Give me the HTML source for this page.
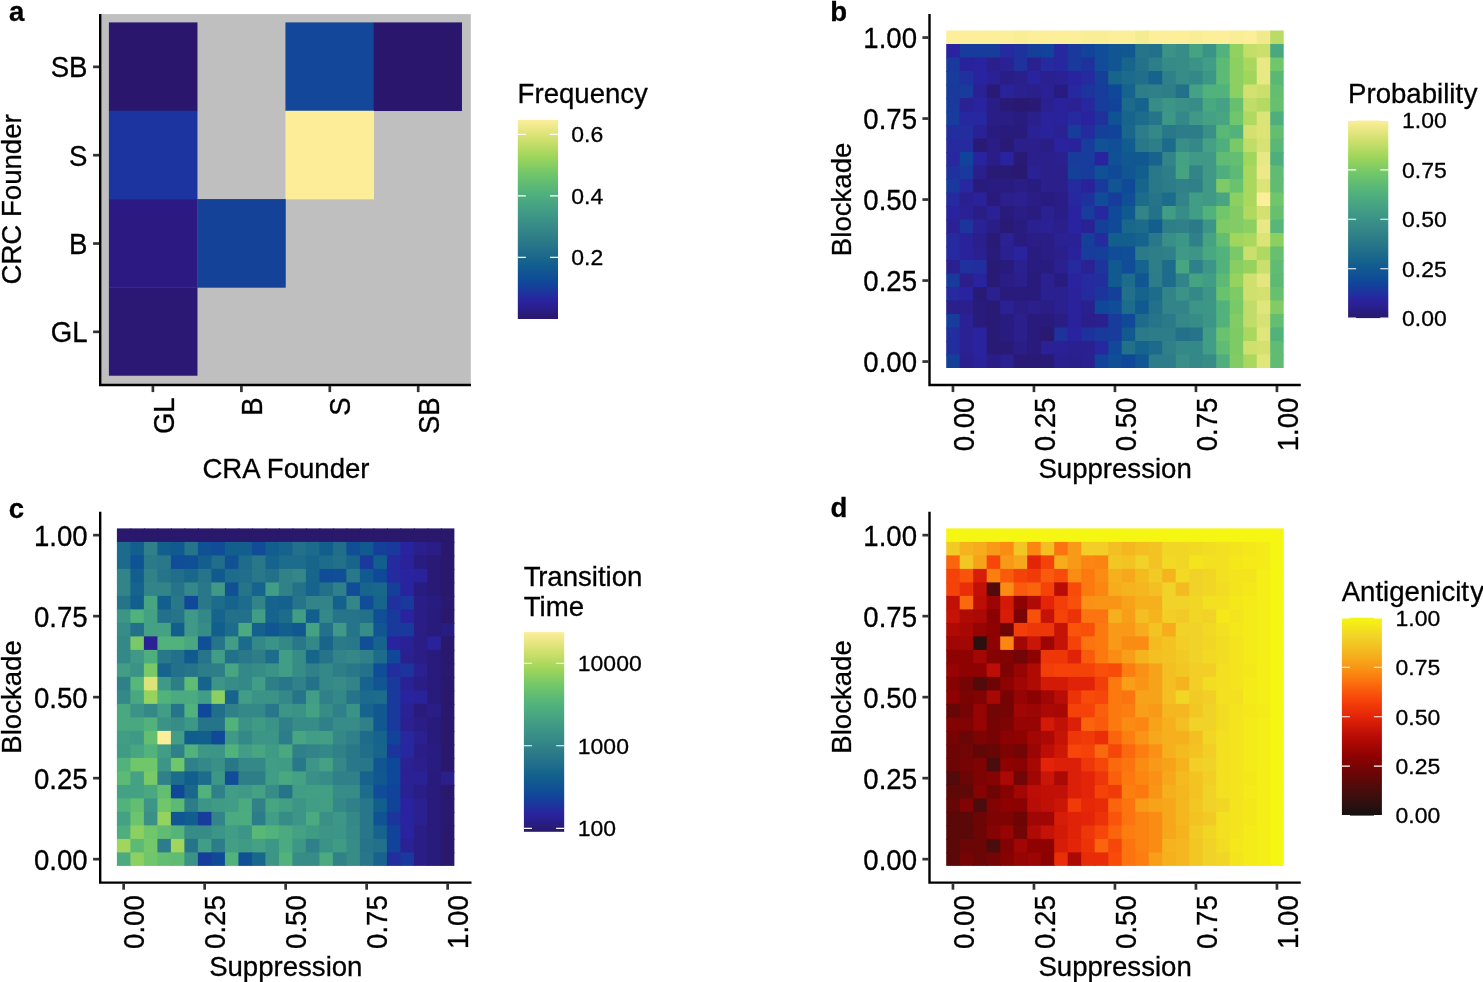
<!DOCTYPE html>
<html><head><meta charset="utf-8"><title>Figure</title>
<style>
html,body{margin:0;padding:0;background:#fff;}
svg{display:block;}
text{font-family:"Liberation Sans",Arial,Helvetica,sans-serif;fill:#000;stroke:#000;stroke-width:0.3px;}
</style></head><body>
<svg width="1483" height="982" viewBox="0 0 1483 982">
<rect width="1483" height="982" fill="#fff"/>
<rect x="100.20" y="14.10" width="370.60" height="370.90" fill="#bfbfbf"/>
<rect x="108.90" y="22.40" width="88.57" height="88.63" fill="#2a166c"/>
<rect x="285.44" y="22.40" width="88.57" height="88.63" fill="#12479a"/>
<rect x="373.71" y="22.40" width="88.27" height="88.63" fill="#2a166c"/>
<rect x="108.90" y="110.73" width="88.57" height="88.63" fill="#1c34a0"/>
<rect x="285.44" y="110.73" width="88.57" height="88.63" fill="#fded98"/>
<rect x="108.90" y="199.06" width="88.57" height="88.63" fill="#2c1a82"/>
<rect x="197.17" y="199.06" width="88.57" height="88.63" fill="#134298"/>
<rect x="108.90" y="287.39" width="88.57" height="88.33" fill="#2a1874"/>
<path d="M100.20 14.10V385.00H471.00" fill="none" stroke="#000" stroke-width="2.40" stroke-linecap="butt" stroke-linejoin="miter"/>
<line x1="93.10" y1="66.86" x2="99.20" y2="66.86" stroke="#333" stroke-width="2.70"/>
<text transform="translate(87.50 77.27) scale(1 1.045)" text-anchor="end" font-size="27.60">SB</text>
<line x1="93.10" y1="155.20" x2="99.20" y2="155.20" stroke="#333" stroke-width="2.70"/>
<text transform="translate(87.50 165.60) scale(1 1.045)" text-anchor="end" font-size="27.60">S</text>
<line x1="93.10" y1="243.53" x2="99.20" y2="243.53" stroke="#333" stroke-width="2.70"/>
<text transform="translate(87.50 253.93) scale(1 1.045)" text-anchor="end" font-size="27.60">B</text>
<line x1="93.10" y1="331.85" x2="99.20" y2="331.85" stroke="#333" stroke-width="2.70"/>
<text transform="translate(87.50 342.25) scale(1 1.045)" text-anchor="end" font-size="27.60">GL</text>
<line x1="152.90" y1="386.00" x2="152.90" y2="392.10" stroke="#333" stroke-width="2.70"/>
<text transform="translate(173.50 397.30) rotate(-90) scale(1 1.045)" text-anchor="end" font-size="27.60">GL</text>
<line x1="241.40" y1="386.00" x2="241.40" y2="392.10" stroke="#333" stroke-width="2.70"/>
<text transform="translate(262.00 397.30) rotate(-90) scale(1 1.045)" text-anchor="end" font-size="27.60">B</text>
<line x1="329.80" y1="386.00" x2="329.80" y2="392.10" stroke="#333" stroke-width="2.70"/>
<text transform="translate(350.40 397.30) rotate(-90) scale(1 1.045)" text-anchor="end" font-size="27.60">S</text>
<line x1="418.20" y1="386.00" x2="418.20" y2="392.10" stroke="#333" stroke-width="2.70"/>
<text transform="translate(438.80 397.30) rotate(-90) scale(1 1.045)" text-anchor="end" font-size="27.60">SB</text>
<text transform="translate(21.40 199.40) rotate(-90) scale(1 1.020)" text-anchor="middle" font-size="27.60">CRC Founder</text>
<text transform="translate(286.00 477.90) scale(1 1.020)" text-anchor="middle" font-size="27.60">CRA Founder</text>
<text x="8.90" y="20.90" font-size="27.60" font-weight="bold" stroke="none">a</text>
<defs><linearGradient id="ga" x1="0" y1="1" x2="0" y2="0">
<stop offset="0.0000" stop-color="#29186b"/>
<stop offset="0.0909" stop-color="#2a23a0"/>
<stop offset="0.1818" stop-color="#0f4799"/>
<stop offset="0.2727" stop-color="#125f8e"/>
<stop offset="0.3636" stop-color="#267489"/>
<stop offset="0.4545" stop-color="#358888"/>
<stop offset="0.5455" stop-color="#419d85"/>
<stop offset="0.6364" stop-color="#51b27c"/>
<stop offset="0.7273" stop-color="#6fc66b"/>
<stop offset="0.8182" stop-color="#a0d65b"/>
<stop offset="0.9091" stop-color="#d4e170"/>
<stop offset="1.0000" stop-color="#fdee99"/>
</linearGradient></defs>
<rect x="517.80" y="119.90" width="40.20" height="199.10" fill="url(#ga)"/>
<path d="M517.80 134.40h8.04M549.96 134.40h8.04" stroke="#fff" stroke-width="1.1" fill="none"/>
<path d="M517.80 195.90h8.04M549.96 195.90h8.04" stroke="#fff" stroke-width="1.1" fill="none"/>
<path d="M517.80 257.40h8.04M549.96 257.40h8.04" stroke="#fff" stroke-width="1.1" fill="none"/>
<text transform="translate(571.30 142.30) scale(1 0.990)" font-size="23.00">0.6</text>
<text transform="translate(571.30 203.80) scale(1 0.990)" font-size="23.00">0.4</text>
<text transform="translate(571.30 265.30) scale(1 0.990)" font-size="23.00">0.2</text>
<text transform="translate(517.60 102.90) scale(1 1.020)" font-size="27.60">Frequency</text>
<g>
<rect x="946.20" y="30.50" width="14.50" height="14.50" fill="#fdee99"/>
<rect x="959.70" y="30.50" width="14.50" height="14.50" fill="#fdee99"/>
<rect x="973.20" y="30.50" width="14.50" height="14.50" fill="#fdee99"/>
<rect x="986.70" y="30.50" width="14.50" height="14.50" fill="#fdee99"/>
<rect x="1000.20" y="30.50" width="14.50" height="14.50" fill="#fdee99"/>
<rect x="1013.70" y="30.50" width="14.50" height="14.50" fill="#f9ed95"/>
<rect x="1027.20" y="30.50" width="14.50" height="14.50" fill="#fdee99"/>
<rect x="1040.70" y="30.50" width="14.50" height="14.50" fill="#fdee99"/>
<rect x="1054.20" y="30.50" width="14.50" height="14.50" fill="#fdee99"/>
<rect x="1067.70" y="30.50" width="14.50" height="14.50" fill="#fdee99"/>
<rect x="1081.20" y="30.50" width="14.50" height="14.50" fill="#f9ed95"/>
<rect x="1094.70" y="30.50" width="14.50" height="14.50" fill="#f9ed95"/>
<rect x="1108.20" y="30.50" width="14.50" height="14.50" fill="#fdee99"/>
<rect x="1121.70" y="30.50" width="14.50" height="14.50" fill="#fdee99"/>
<rect x="1135.20" y="30.50" width="14.50" height="14.50" fill="#f5eb91"/>
<rect x="1148.70" y="30.50" width="14.50" height="14.50" fill="#fdee99"/>
<rect x="1162.20" y="30.50" width="14.50" height="14.50" fill="#fdee99"/>
<rect x="1175.70" y="30.50" width="14.50" height="14.50" fill="#fdee99"/>
<rect x="1189.20" y="30.50" width="14.50" height="14.50" fill="#f9ed95"/>
<rect x="1202.70" y="30.50" width="14.50" height="14.50" fill="#fdee99"/>
<rect x="1216.20" y="30.50" width="14.50" height="14.50" fill="#fdee99"/>
<rect x="1229.70" y="30.50" width="14.50" height="14.50" fill="#f9ed95"/>
<rect x="1243.20" y="30.50" width="14.50" height="14.50" fill="#fdee99"/>
<rect x="1256.70" y="30.50" width="14.50" height="14.50" fill="#f1ea8d"/>
<rect x="1270.20" y="30.50" width="13.50" height="14.50" fill="#badc66"/>
<rect x="946.20" y="44.00" width="14.50" height="14.50" fill="#2a23a0"/>
<rect x="959.70" y="44.00" width="14.50" height="14.50" fill="#173c9b"/>
<rect x="973.20" y="44.00" width="14.50" height="14.50" fill="#173c9b"/>
<rect x="986.70" y="44.00" width="14.50" height="14.50" fill="#173c9b"/>
<rect x="1000.20" y="44.00" width="14.50" height="14.50" fill="#252a9f"/>
<rect x="1013.70" y="44.00" width="14.50" height="14.50" fill="#1f319d"/>
<rect x="1027.20" y="44.00" width="14.50" height="14.50" fill="#14409a"/>
<rect x="1040.70" y="44.00" width="14.50" height="14.50" fill="#12439a"/>
<rect x="1054.20" y="44.00" width="14.50" height="14.50" fill="#27279f"/>
<rect x="1067.70" y="44.00" width="14.50" height="14.50" fill="#1a399c"/>
<rect x="1081.20" y="44.00" width="14.50" height="14.50" fill="#12439a"/>
<rect x="1094.70" y="44.00" width="14.50" height="14.50" fill="#104c97"/>
<rect x="1108.20" y="44.00" width="14.50" height="14.50" fill="#115592"/>
<rect x="1121.70" y="44.00" width="14.50" height="14.50" fill="#115891"/>
<rect x="1135.20" y="44.00" width="14.50" height="14.50" fill="#267489"/>
<rect x="1148.70" y="44.00" width="14.50" height="14.50" fill="#22708a"/>
<rect x="1162.20" y="44.00" width="14.50" height="14.50" fill="#3b9286"/>
<rect x="1175.70" y="44.00" width="14.50" height="14.50" fill="#378c87"/>
<rect x="1189.20" y="44.00" width="14.50" height="14.50" fill="#46a382"/>
<rect x="1202.70" y="44.00" width="14.50" height="14.50" fill="#3b9286"/>
<rect x="1216.20" y="44.00" width="14.50" height="14.50" fill="#51b27c"/>
<rect x="1229.70" y="44.00" width="14.50" height="14.50" fill="#91d160"/>
<rect x="1243.20" y="44.00" width="14.50" height="14.50" fill="#c4de6a"/>
<rect x="1256.70" y="44.00" width="14.50" height="14.50" fill="#cadf6c"/>
<rect x="1270.20" y="44.00" width="13.50" height="14.50" fill="#49a880"/>
<rect x="946.20" y="57.50" width="14.50" height="14.50" fill="#1a399c"/>
<rect x="959.70" y="57.50" width="14.50" height="14.50" fill="#2a229b"/>
<rect x="973.20" y="57.50" width="14.50" height="14.50" fill="#2a23a0"/>
<rect x="986.70" y="57.50" width="14.50" height="14.50" fill="#2a1f8b"/>
<rect x="1000.20" y="57.50" width="14.50" height="14.50" fill="#2a2195"/>
<rect x="1013.70" y="57.50" width="14.50" height="14.50" fill="#1f319d"/>
<rect x="1027.20" y="57.50" width="14.50" height="14.50" fill="#2a2090"/>
<rect x="1040.70" y="57.50" width="14.50" height="14.50" fill="#252a9f"/>
<rect x="1054.20" y="57.50" width="14.50" height="14.50" fill="#27279f"/>
<rect x="1067.70" y="57.50" width="14.50" height="14.50" fill="#1a399c"/>
<rect x="1081.20" y="57.50" width="14.50" height="14.50" fill="#1f319d"/>
<rect x="1094.70" y="57.50" width="14.50" height="14.50" fill="#104c97"/>
<rect x="1108.20" y="57.50" width="14.50" height="14.50" fill="#115592"/>
<rect x="1121.70" y="57.50" width="14.50" height="14.50" fill="#18658c"/>
<rect x="1135.20" y="57.50" width="14.50" height="14.50" fill="#24728a"/>
<rect x="1148.70" y="57.50" width="14.50" height="14.50" fill="#2e7e88"/>
<rect x="1162.20" y="57.50" width="14.50" height="14.50" fill="#368a88"/>
<rect x="1175.70" y="57.50" width="14.50" height="14.50" fill="#378c87"/>
<rect x="1189.20" y="57.50" width="14.50" height="14.50" fill="#3b9286"/>
<rect x="1202.70" y="57.50" width="14.50" height="14.50" fill="#419d85"/>
<rect x="1216.20" y="57.50" width="14.50" height="14.50" fill="#5dba75"/>
<rect x="1229.70" y="57.50" width="14.50" height="14.50" fill="#8cd061"/>
<rect x="1243.20" y="57.50" width="14.50" height="14.50" fill="#aad85f"/>
<rect x="1256.70" y="57.50" width="14.50" height="14.50" fill="#e8e884"/>
<rect x="1270.20" y="57.50" width="13.50" height="14.50" fill="#6fc66b"/>
<rect x="946.20" y="71.00" width="14.50" height="14.50" fill="#173c9b"/>
<rect x="959.70" y="71.00" width="14.50" height="14.50" fill="#1f319d"/>
<rect x="973.20" y="71.00" width="14.50" height="14.50" fill="#2a23a0"/>
<rect x="986.70" y="71.00" width="14.50" height="14.50" fill="#2a2195"/>
<rect x="1000.20" y="71.00" width="14.50" height="14.50" fill="#2a1e86"/>
<rect x="1013.70" y="71.00" width="14.50" height="14.50" fill="#2a1f8b"/>
<rect x="1027.20" y="71.00" width="14.50" height="14.50" fill="#2a23a0"/>
<rect x="1040.70" y="71.00" width="14.50" height="14.50" fill="#2a2090"/>
<rect x="1054.20" y="71.00" width="14.50" height="14.50" fill="#2a2195"/>
<rect x="1067.70" y="71.00" width="14.50" height="14.50" fill="#2a23a0"/>
<rect x="1081.20" y="71.00" width="14.50" height="14.50" fill="#252a9f"/>
<rect x="1094.70" y="71.00" width="14.50" height="14.50" fill="#14409a"/>
<rect x="1108.20" y="71.00" width="14.50" height="14.50" fill="#18658c"/>
<rect x="1121.70" y="71.00" width="14.50" height="14.50" fill="#1c6a8c"/>
<rect x="1135.20" y="71.00" width="14.50" height="14.50" fill="#206e8a"/>
<rect x="1148.70" y="71.00" width="14.50" height="14.50" fill="#16638d"/>
<rect x="1162.20" y="71.00" width="14.50" height="14.50" fill="#2f8088"/>
<rect x="1175.70" y="71.00" width="14.50" height="14.50" fill="#378c87"/>
<rect x="1189.20" y="71.00" width="14.50" height="14.50" fill="#358888"/>
<rect x="1202.70" y="71.00" width="14.50" height="14.50" fill="#3d9786"/>
<rect x="1216.20" y="71.00" width="14.50" height="14.50" fill="#5dba75"/>
<rect x="1229.70" y="71.00" width="14.50" height="14.50" fill="#8cd061"/>
<rect x="1243.20" y="71.00" width="14.50" height="14.50" fill="#a0d65b"/>
<rect x="1256.70" y="71.00" width="14.50" height="14.50" fill="#e8e884"/>
<rect x="1270.20" y="71.00" width="13.50" height="14.50" fill="#5ab877"/>
<rect x="946.20" y="84.50" width="14.50" height="14.50" fill="#1a399c"/>
<rect x="959.70" y="84.50" width="14.50" height="14.50" fill="#173c9b"/>
<rect x="973.20" y="84.50" width="14.50" height="14.50" fill="#2a2195"/>
<rect x="986.70" y="84.50" width="14.50" height="14.50" fill="#291a76"/>
<rect x="1000.20" y="84.50" width="14.50" height="14.50" fill="#2a229b"/>
<rect x="1013.70" y="84.50" width="14.50" height="14.50" fill="#2a2090"/>
<rect x="1027.20" y="84.50" width="14.50" height="14.50" fill="#2a1f8b"/>
<rect x="1040.70" y="84.50" width="14.50" height="14.50" fill="#2a2195"/>
<rect x="1054.20" y="84.50" width="14.50" height="14.50" fill="#291c80"/>
<rect x="1067.70" y="84.50" width="14.50" height="14.50" fill="#27279f"/>
<rect x="1081.20" y="84.50" width="14.50" height="14.50" fill="#1c359c"/>
<rect x="1094.70" y="84.50" width="14.50" height="14.50" fill="#173c9b"/>
<rect x="1108.20" y="84.50" width="14.50" height="14.50" fill="#0f4799"/>
<rect x="1121.70" y="84.50" width="14.50" height="14.50" fill="#16638d"/>
<rect x="1135.20" y="84.50" width="14.50" height="14.50" fill="#2e7e88"/>
<rect x="1148.70" y="84.50" width="14.50" height="14.50" fill="#2f8088"/>
<rect x="1162.20" y="84.50" width="14.50" height="14.50" fill="#2e7e88"/>
<rect x="1175.70" y="84.50" width="14.50" height="14.50" fill="#22708a"/>
<rect x="1189.20" y="84.50" width="14.50" height="14.50" fill="#44a183"/>
<rect x="1202.70" y="84.50" width="14.50" height="14.50" fill="#51b27c"/>
<rect x="1216.20" y="84.50" width="14.50" height="14.50" fill="#51b27c"/>
<rect x="1229.70" y="84.50" width="14.50" height="14.50" fill="#8cd061"/>
<rect x="1243.20" y="84.50" width="14.50" height="14.50" fill="#d4e170"/>
<rect x="1256.70" y="84.50" width="14.50" height="14.50" fill="#cadf6c"/>
<rect x="1270.20" y="84.50" width="13.50" height="14.50" fill="#63be72"/>
<rect x="946.20" y="98.00" width="14.50" height="14.50" fill="#1a399c"/>
<rect x="959.70" y="98.00" width="14.50" height="14.50" fill="#2a2195"/>
<rect x="973.20" y="98.00" width="14.50" height="14.50" fill="#2a23a0"/>
<rect x="986.70" y="98.00" width="14.50" height="14.50" fill="#2a1e86"/>
<rect x="1000.20" y="98.00" width="14.50" height="14.50" fill="#291a76"/>
<rect x="1013.70" y="98.00" width="14.50" height="14.50" fill="#291970"/>
<rect x="1027.20" y="98.00" width="14.50" height="14.50" fill="#291a76"/>
<rect x="1040.70" y="98.00" width="14.50" height="14.50" fill="#2a2090"/>
<rect x="1054.20" y="98.00" width="14.50" height="14.50" fill="#2a229b"/>
<rect x="1067.70" y="98.00" width="14.50" height="14.50" fill="#2a2195"/>
<rect x="1081.20" y="98.00" width="14.50" height="14.50" fill="#27279f"/>
<rect x="1094.70" y="98.00" width="14.50" height="14.50" fill="#173c9b"/>
<rect x="1108.20" y="98.00" width="14.50" height="14.50" fill="#12439a"/>
<rect x="1121.70" y="98.00" width="14.50" height="14.50" fill="#1c6a8c"/>
<rect x="1135.20" y="98.00" width="14.50" height="14.50" fill="#16638d"/>
<rect x="1148.70" y="98.00" width="14.50" height="14.50" fill="#378c87"/>
<rect x="1162.20" y="98.00" width="14.50" height="14.50" fill="#3c9586"/>
<rect x="1175.70" y="98.00" width="14.50" height="14.50" fill="#3a9087"/>
<rect x="1189.20" y="98.00" width="14.50" height="14.50" fill="#378c87"/>
<rect x="1202.70" y="98.00" width="14.50" height="14.50" fill="#49a880"/>
<rect x="1216.20" y="98.00" width="14.50" height="14.50" fill="#44a183"/>
<rect x="1229.70" y="98.00" width="14.50" height="14.50" fill="#66c070"/>
<rect x="1243.20" y="98.00" width="14.50" height="14.50" fill="#bfdd68"/>
<rect x="1256.70" y="98.00" width="14.50" height="14.50" fill="#b5da63"/>
<rect x="1270.20" y="98.00" width="13.50" height="14.50" fill="#66c070"/>
<rect x="946.20" y="111.50" width="14.50" height="14.50" fill="#173c9b"/>
<rect x="959.70" y="111.50" width="14.50" height="14.50" fill="#27279f"/>
<rect x="973.20" y="111.50" width="14.50" height="14.50" fill="#27279f"/>
<rect x="986.70" y="111.50" width="14.50" height="14.50" fill="#2a1e86"/>
<rect x="1000.20" y="111.50" width="14.50" height="14.50" fill="#2a1e86"/>
<rect x="1013.70" y="111.50" width="14.50" height="14.50" fill="#291c80"/>
<rect x="1027.20" y="111.50" width="14.50" height="14.50" fill="#2a1f8b"/>
<rect x="1040.70" y="111.50" width="14.50" height="14.50" fill="#2a229b"/>
<rect x="1054.20" y="111.50" width="14.50" height="14.50" fill="#2a229b"/>
<rect x="1067.70" y="111.50" width="14.50" height="14.50" fill="#252a9f"/>
<rect x="1081.20" y="111.50" width="14.50" height="14.50" fill="#2a23a0"/>
<rect x="1094.70" y="111.50" width="14.50" height="14.50" fill="#1f319d"/>
<rect x="1108.20" y="111.50" width="14.50" height="14.50" fill="#105394"/>
<rect x="1121.70" y="111.50" width="14.50" height="14.50" fill="#18658c"/>
<rect x="1135.20" y="111.50" width="14.50" height="14.50" fill="#1e6c8b"/>
<rect x="1148.70" y="111.50" width="14.50" height="14.50" fill="#267489"/>
<rect x="1162.20" y="111.50" width="14.50" height="14.50" fill="#3d9786"/>
<rect x="1175.70" y="111.50" width="14.50" height="14.50" fill="#358888"/>
<rect x="1189.20" y="111.50" width="14.50" height="14.50" fill="#3f9986"/>
<rect x="1202.70" y="111.50" width="14.50" height="14.50" fill="#44a183"/>
<rect x="1216.20" y="111.50" width="14.50" height="14.50" fill="#47a581"/>
<rect x="1229.70" y="111.50" width="14.50" height="14.50" fill="#6fc66b"/>
<rect x="1243.20" y="111.50" width="14.50" height="14.50" fill="#b0d961"/>
<rect x="1256.70" y="111.50" width="14.50" height="14.50" fill="#dce478"/>
<rect x="1270.20" y="111.50" width="13.50" height="14.50" fill="#4eae7e"/>
<rect x="946.20" y="125.00" width="14.50" height="14.50" fill="#222e9e"/>
<rect x="959.70" y="125.00" width="14.50" height="14.50" fill="#222e9e"/>
<rect x="973.20" y="125.00" width="14.50" height="14.50" fill="#2a2195"/>
<rect x="986.70" y="125.00" width="14.50" height="14.50" fill="#291c80"/>
<rect x="1000.20" y="125.00" width="14.50" height="14.50" fill="#291b7b"/>
<rect x="1013.70" y="125.00" width="14.50" height="14.50" fill="#291b7b"/>
<rect x="1027.20" y="125.00" width="14.50" height="14.50" fill="#2a2195"/>
<rect x="1040.70" y="125.00" width="14.50" height="14.50" fill="#2a229b"/>
<rect x="1054.20" y="125.00" width="14.50" height="14.50" fill="#2a2195"/>
<rect x="1067.70" y="125.00" width="14.50" height="14.50" fill="#173c9b"/>
<rect x="1081.20" y="125.00" width="14.50" height="14.50" fill="#252a9f"/>
<rect x="1094.70" y="125.00" width="14.50" height="14.50" fill="#14409a"/>
<rect x="1108.20" y="125.00" width="14.50" height="14.50" fill="#12439a"/>
<rect x="1121.70" y="125.00" width="14.50" height="14.50" fill="#1a678c"/>
<rect x="1135.20" y="125.00" width="14.50" height="14.50" fill="#2c7c89"/>
<rect x="1148.70" y="125.00" width="14.50" height="14.50" fill="#358888"/>
<rect x="1162.20" y="125.00" width="14.50" height="14.50" fill="#297889"/>
<rect x="1175.70" y="125.00" width="14.50" height="14.50" fill="#2c7c89"/>
<rect x="1189.20" y="125.00" width="14.50" height="14.50" fill="#2c7c89"/>
<rect x="1202.70" y="125.00" width="14.50" height="14.50" fill="#3a9087"/>
<rect x="1216.20" y="125.00" width="14.50" height="14.50" fill="#5ab877"/>
<rect x="1229.70" y="125.00" width="14.50" height="14.50" fill="#51b27c"/>
<rect x="1243.20" y="125.00" width="14.50" height="14.50" fill="#d4e170"/>
<rect x="1256.70" y="125.00" width="14.50" height="14.50" fill="#dce478"/>
<rect x="1270.20" y="125.00" width="13.50" height="14.50" fill="#63be72"/>
<rect x="946.20" y="138.50" width="14.50" height="14.50" fill="#252a9f"/>
<rect x="959.70" y="138.50" width="14.50" height="14.50" fill="#252a9f"/>
<rect x="973.20" y="138.50" width="14.50" height="14.50" fill="#291a76"/>
<rect x="986.70" y="138.50" width="14.50" height="14.50" fill="#2a1e86"/>
<rect x="1000.20" y="138.50" width="14.50" height="14.50" fill="#291a76"/>
<rect x="1013.70" y="138.50" width="14.50" height="14.50" fill="#2a1f8b"/>
<rect x="1027.20" y="138.50" width="14.50" height="14.50" fill="#2a1f8b"/>
<rect x="1040.70" y="138.50" width="14.50" height="14.50" fill="#2a1e86"/>
<rect x="1054.20" y="138.50" width="14.50" height="14.50" fill="#2a23a0"/>
<rect x="1067.70" y="138.50" width="14.50" height="14.50" fill="#2a229b"/>
<rect x="1081.20" y="138.50" width="14.50" height="14.50" fill="#173c9b"/>
<rect x="1094.70" y="138.50" width="14.50" height="14.50" fill="#105394"/>
<rect x="1108.20" y="138.50" width="14.50" height="14.50" fill="#104e96"/>
<rect x="1121.70" y="138.50" width="14.50" height="14.50" fill="#125d8f"/>
<rect x="1135.20" y="138.50" width="14.50" height="14.50" fill="#297889"/>
<rect x="1148.70" y="138.50" width="14.50" height="14.50" fill="#2e7e88"/>
<rect x="1162.20" y="138.50" width="14.50" height="14.50" fill="#1c6a8c"/>
<rect x="1175.70" y="138.50" width="14.50" height="14.50" fill="#398e87"/>
<rect x="1189.20" y="138.50" width="14.50" height="14.50" fill="#358888"/>
<rect x="1202.70" y="138.50" width="14.50" height="14.50" fill="#44a183"/>
<rect x="1216.20" y="138.50" width="14.50" height="14.50" fill="#4eae7e"/>
<rect x="1229.70" y="138.50" width="14.50" height="14.50" fill="#79c968"/>
<rect x="1243.20" y="138.50" width="14.50" height="14.50" fill="#bfdd68"/>
<rect x="1256.70" y="138.50" width="14.50" height="14.50" fill="#d8e274"/>
<rect x="1270.20" y="138.50" width="13.50" height="14.50" fill="#5ab877"/>
<rect x="946.20" y="152.00" width="14.50" height="14.50" fill="#27279f"/>
<rect x="959.70" y="152.00" width="14.50" height="14.50" fill="#12439a"/>
<rect x="973.20" y="152.00" width="14.50" height="14.50" fill="#2a23a0"/>
<rect x="986.70" y="152.00" width="14.50" height="14.50" fill="#2a1e86"/>
<rect x="1000.20" y="152.00" width="14.50" height="14.50" fill="#2a23a0"/>
<rect x="1013.70" y="152.00" width="14.50" height="14.50" fill="#291a76"/>
<rect x="1027.20" y="152.00" width="14.50" height="14.50" fill="#2a1f8b"/>
<rect x="1040.70" y="152.00" width="14.50" height="14.50" fill="#2a1f8b"/>
<rect x="1054.20" y="152.00" width="14.50" height="14.50" fill="#2a2090"/>
<rect x="1067.70" y="152.00" width="14.50" height="14.50" fill="#173c9b"/>
<rect x="1081.20" y="152.00" width="14.50" height="14.50" fill="#173c9b"/>
<rect x="1094.70" y="152.00" width="14.50" height="14.50" fill="#2a23a0"/>
<rect x="1108.20" y="152.00" width="14.50" height="14.50" fill="#105195"/>
<rect x="1121.70" y="152.00" width="14.50" height="14.50" fill="#115891"/>
<rect x="1135.20" y="152.00" width="14.50" height="14.50" fill="#115891"/>
<rect x="1148.70" y="152.00" width="14.50" height="14.50" fill="#16638d"/>
<rect x="1162.20" y="152.00" width="14.50" height="14.50" fill="#328488"/>
<rect x="1175.70" y="152.00" width="14.50" height="14.50" fill="#44a183"/>
<rect x="1189.20" y="152.00" width="14.50" height="14.50" fill="#3f9986"/>
<rect x="1202.70" y="152.00" width="14.50" height="14.50" fill="#3f9986"/>
<rect x="1216.20" y="152.00" width="14.50" height="14.50" fill="#60bc74"/>
<rect x="1229.70" y="152.00" width="14.50" height="14.50" fill="#63be72"/>
<rect x="1243.20" y="152.00" width="14.50" height="14.50" fill="#a0d65b"/>
<rect x="1256.70" y="152.00" width="14.50" height="14.50" fill="#e8e884"/>
<rect x="1270.20" y="152.00" width="13.50" height="14.50" fill="#4eae7e"/>
<rect x="946.20" y="165.50" width="14.50" height="14.50" fill="#1f319d"/>
<rect x="959.70" y="165.50" width="14.50" height="14.50" fill="#1a399c"/>
<rect x="973.20" y="165.50" width="14.50" height="14.50" fill="#2a1f8b"/>
<rect x="986.70" y="165.50" width="14.50" height="14.50" fill="#291a76"/>
<rect x="1000.20" y="165.50" width="14.50" height="14.50" fill="#291a76"/>
<rect x="1013.70" y="165.50" width="14.50" height="14.50" fill="#291970"/>
<rect x="1027.20" y="165.50" width="14.50" height="14.50" fill="#2a2195"/>
<rect x="1040.70" y="165.50" width="14.50" height="14.50" fill="#2a1f8b"/>
<rect x="1054.20" y="165.50" width="14.50" height="14.50" fill="#2a1f8b"/>
<rect x="1067.70" y="165.50" width="14.50" height="14.50" fill="#14409a"/>
<rect x="1081.20" y="165.50" width="14.50" height="14.50" fill="#173c9b"/>
<rect x="1094.70" y="165.50" width="14.50" height="14.50" fill="#105195"/>
<rect x="1108.20" y="165.50" width="14.50" height="14.50" fill="#0f4998"/>
<rect x="1121.70" y="165.50" width="14.50" height="14.50" fill="#115592"/>
<rect x="1135.20" y="165.50" width="14.50" height="14.50" fill="#125f8e"/>
<rect x="1148.70" y="165.50" width="14.50" height="14.50" fill="#297889"/>
<rect x="1162.20" y="165.50" width="14.50" height="14.50" fill="#2e7e88"/>
<rect x="1175.70" y="165.50" width="14.50" height="14.50" fill="#46a382"/>
<rect x="1189.20" y="165.50" width="14.50" height="14.50" fill="#328488"/>
<rect x="1202.70" y="165.50" width="14.50" height="14.50" fill="#3f9986"/>
<rect x="1216.20" y="165.50" width="14.50" height="14.50" fill="#4eae7e"/>
<rect x="1229.70" y="165.50" width="14.50" height="14.50" fill="#5dba75"/>
<rect x="1243.20" y="165.50" width="14.50" height="14.50" fill="#aad85f"/>
<rect x="1256.70" y="165.50" width="14.50" height="14.50" fill="#ede989"/>
<rect x="1270.20" y="165.50" width="13.50" height="14.50" fill="#60bc74"/>
<rect x="946.20" y="179.00" width="14.50" height="14.50" fill="#1a399c"/>
<rect x="959.70" y="179.00" width="14.50" height="14.50" fill="#27279f"/>
<rect x="973.20" y="179.00" width="14.50" height="14.50" fill="#291b7b"/>
<rect x="986.70" y="179.00" width="14.50" height="14.50" fill="#291c80"/>
<rect x="1000.20" y="179.00" width="14.50" height="14.50" fill="#291c80"/>
<rect x="1013.70" y="179.00" width="14.50" height="14.50" fill="#2a1e86"/>
<rect x="1027.20" y="179.00" width="14.50" height="14.50" fill="#291c80"/>
<rect x="1040.70" y="179.00" width="14.50" height="14.50" fill="#2a1f8b"/>
<rect x="1054.20" y="179.00" width="14.50" height="14.50" fill="#2a1f8b"/>
<rect x="1067.70" y="179.00" width="14.50" height="14.50" fill="#252a9f"/>
<rect x="1081.20" y="179.00" width="14.50" height="14.50" fill="#2a229b"/>
<rect x="1094.70" y="179.00" width="14.50" height="14.50" fill="#1a399c"/>
<rect x="1108.20" y="179.00" width="14.50" height="14.50" fill="#115592"/>
<rect x="1121.70" y="179.00" width="14.50" height="14.50" fill="#0f4998"/>
<rect x="1135.20" y="179.00" width="14.50" height="14.50" fill="#18658c"/>
<rect x="1148.70" y="179.00" width="14.50" height="14.50" fill="#297889"/>
<rect x="1162.20" y="179.00" width="14.50" height="14.50" fill="#2c7c89"/>
<rect x="1175.70" y="179.00" width="14.50" height="14.50" fill="#308288"/>
<rect x="1189.20" y="179.00" width="14.50" height="14.50" fill="#2f8088"/>
<rect x="1202.70" y="179.00" width="14.50" height="14.50" fill="#3f9986"/>
<rect x="1216.20" y="179.00" width="14.50" height="14.50" fill="#7ecb66"/>
<rect x="1229.70" y="179.00" width="14.50" height="14.50" fill="#69c26e"/>
<rect x="1243.20" y="179.00" width="14.50" height="14.50" fill="#aad85f"/>
<rect x="1256.70" y="179.00" width="14.50" height="14.50" fill="#dce478"/>
<rect x="1270.20" y="179.00" width="13.50" height="14.50" fill="#60bc74"/>
<rect x="946.20" y="192.50" width="14.50" height="14.50" fill="#252a9f"/>
<rect x="959.70" y="192.50" width="14.50" height="14.50" fill="#2a2090"/>
<rect x="973.20" y="192.50" width="14.50" height="14.50" fill="#2a229b"/>
<rect x="986.70" y="192.50" width="14.50" height="14.50" fill="#291b7b"/>
<rect x="1000.20" y="192.50" width="14.50" height="14.50" fill="#2a1f8b"/>
<rect x="1013.70" y="192.50" width="14.50" height="14.50" fill="#2a2090"/>
<rect x="1027.20" y="192.50" width="14.50" height="14.50" fill="#2a1e86"/>
<rect x="1040.70" y="192.50" width="14.50" height="14.50" fill="#291c80"/>
<rect x="1054.20" y="192.50" width="14.50" height="14.50" fill="#2a1e86"/>
<rect x="1067.70" y="192.50" width="14.50" height="14.50" fill="#27279f"/>
<rect x="1081.20" y="192.50" width="14.50" height="14.50" fill="#1f319d"/>
<rect x="1094.70" y="192.50" width="14.50" height="14.50" fill="#104c97"/>
<rect x="1108.20" y="192.50" width="14.50" height="14.50" fill="#173c9b"/>
<rect x="1121.70" y="192.50" width="14.50" height="14.50" fill="#104e96"/>
<rect x="1135.20" y="192.50" width="14.50" height="14.50" fill="#1e6c8b"/>
<rect x="1148.70" y="192.50" width="14.50" height="14.50" fill="#267489"/>
<rect x="1162.20" y="192.50" width="14.50" height="14.50" fill="#1e6c8b"/>
<rect x="1175.70" y="192.50" width="14.50" height="14.50" fill="#328488"/>
<rect x="1189.20" y="192.50" width="14.50" height="14.50" fill="#419d85"/>
<rect x="1202.70" y="192.50" width="14.50" height="14.50" fill="#3f9986"/>
<rect x="1216.20" y="192.50" width="14.50" height="14.50" fill="#47a581"/>
<rect x="1229.70" y="192.50" width="14.50" height="14.50" fill="#8cd061"/>
<rect x="1243.20" y="192.50" width="14.50" height="14.50" fill="#aad85f"/>
<rect x="1256.70" y="192.50" width="14.50" height="14.50" fill="#fdee99"/>
<rect x="1270.20" y="192.50" width="13.50" height="14.50" fill="#6fc66b"/>
<rect x="946.20" y="206.00" width="14.50" height="14.50" fill="#2a23a0"/>
<rect x="959.70" y="206.00" width="14.50" height="14.50" fill="#2a2195"/>
<rect x="973.20" y="206.00" width="14.50" height="14.50" fill="#2a1e86"/>
<rect x="986.70" y="206.00" width="14.50" height="14.50" fill="#2a2195"/>
<rect x="1000.20" y="206.00" width="14.50" height="14.50" fill="#291b7b"/>
<rect x="1013.70" y="206.00" width="14.50" height="14.50" fill="#2a1e86"/>
<rect x="1027.20" y="206.00" width="14.50" height="14.50" fill="#291c80"/>
<rect x="1040.70" y="206.00" width="14.50" height="14.50" fill="#2a2090"/>
<rect x="1054.20" y="206.00" width="14.50" height="14.50" fill="#2a1e86"/>
<rect x="1067.70" y="206.00" width="14.50" height="14.50" fill="#2a23a0"/>
<rect x="1081.20" y="206.00" width="14.50" height="14.50" fill="#173c9b"/>
<rect x="1094.70" y="206.00" width="14.50" height="14.50" fill="#27279f"/>
<rect x="1108.20" y="206.00" width="14.50" height="14.50" fill="#0f4998"/>
<rect x="1121.70" y="206.00" width="14.50" height="14.50" fill="#115a90"/>
<rect x="1135.20" y="206.00" width="14.50" height="14.50" fill="#328488"/>
<rect x="1148.70" y="206.00" width="14.50" height="14.50" fill="#24728a"/>
<rect x="1162.20" y="206.00" width="14.50" height="14.50" fill="#419d85"/>
<rect x="1175.70" y="206.00" width="14.50" height="14.50" fill="#378c87"/>
<rect x="1189.20" y="206.00" width="14.50" height="14.50" fill="#419d85"/>
<rect x="1202.70" y="206.00" width="14.50" height="14.50" fill="#51b27c"/>
<rect x="1216.20" y="206.00" width="14.50" height="14.50" fill="#6fc66b"/>
<rect x="1229.70" y="206.00" width="14.50" height="14.50" fill="#83cc65"/>
<rect x="1243.20" y="206.00" width="14.50" height="14.50" fill="#b0d961"/>
<rect x="1256.70" y="206.00" width="14.50" height="14.50" fill="#d4e170"/>
<rect x="1270.20" y="206.00" width="13.50" height="14.50" fill="#66c070"/>
<rect x="946.20" y="219.50" width="14.50" height="14.50" fill="#2a2195"/>
<rect x="959.70" y="219.50" width="14.50" height="14.50" fill="#1c359c"/>
<rect x="973.20" y="219.50" width="14.50" height="14.50" fill="#2a2195"/>
<rect x="986.70" y="219.50" width="14.50" height="14.50" fill="#2a1e86"/>
<rect x="1000.20" y="219.50" width="14.50" height="14.50" fill="#291a76"/>
<rect x="1013.70" y="219.50" width="14.50" height="14.50" fill="#291c80"/>
<rect x="1027.20" y="219.50" width="14.50" height="14.50" fill="#2a2090"/>
<rect x="1040.70" y="219.50" width="14.50" height="14.50" fill="#2a2195"/>
<rect x="1054.20" y="219.50" width="14.50" height="14.50" fill="#2a1f8b"/>
<rect x="1067.70" y="219.50" width="14.50" height="14.50" fill="#2a23a0"/>
<rect x="1081.20" y="219.50" width="14.50" height="14.50" fill="#2a2195"/>
<rect x="1094.70" y="219.50" width="14.50" height="14.50" fill="#14409a"/>
<rect x="1108.20" y="219.50" width="14.50" height="14.50" fill="#0f4998"/>
<rect x="1121.70" y="219.50" width="14.50" height="14.50" fill="#1a678c"/>
<rect x="1135.20" y="219.50" width="14.50" height="14.50" fill="#1c6a8c"/>
<rect x="1148.70" y="219.50" width="14.50" height="14.50" fill="#125f8e"/>
<rect x="1162.20" y="219.50" width="14.50" height="14.50" fill="#2e7e88"/>
<rect x="1175.70" y="219.50" width="14.50" height="14.50" fill="#2f8088"/>
<rect x="1189.20" y="219.50" width="14.50" height="14.50" fill="#2a7a89"/>
<rect x="1202.70" y="219.50" width="14.50" height="14.50" fill="#3c9586"/>
<rect x="1216.20" y="219.50" width="14.50" height="14.50" fill="#7ecb66"/>
<rect x="1229.70" y="219.50" width="14.50" height="14.50" fill="#83cc65"/>
<rect x="1243.20" y="219.50" width="14.50" height="14.50" fill="#8cd061"/>
<rect x="1256.70" y="219.50" width="14.50" height="14.50" fill="#e8e884"/>
<rect x="1270.20" y="219.50" width="13.50" height="14.50" fill="#57b679"/>
<rect x="946.20" y="233.00" width="14.50" height="14.50" fill="#252a9f"/>
<rect x="959.70" y="233.00" width="14.50" height="14.50" fill="#2a229b"/>
<rect x="973.20" y="233.00" width="14.50" height="14.50" fill="#2a1f8b"/>
<rect x="986.70" y="233.00" width="14.50" height="14.50" fill="#291a76"/>
<rect x="1000.20" y="233.00" width="14.50" height="14.50" fill="#2a2195"/>
<rect x="1013.70" y="233.00" width="14.50" height="14.50" fill="#291c80"/>
<rect x="1027.20" y="233.00" width="14.50" height="14.50" fill="#2a1e86"/>
<rect x="1040.70" y="233.00" width="14.50" height="14.50" fill="#2a1e86"/>
<rect x="1054.20" y="233.00" width="14.50" height="14.50" fill="#2a2195"/>
<rect x="1067.70" y="233.00" width="14.50" height="14.50" fill="#2a2195"/>
<rect x="1081.20" y="233.00" width="14.50" height="14.50" fill="#14409a"/>
<rect x="1094.70" y="233.00" width="14.50" height="14.50" fill="#252a9f"/>
<rect x="1108.20" y="233.00" width="14.50" height="14.50" fill="#125f8e"/>
<rect x="1121.70" y="233.00" width="14.50" height="14.50" fill="#125f8e"/>
<rect x="1135.20" y="233.00" width="14.50" height="14.50" fill="#16638d"/>
<rect x="1148.70" y="233.00" width="14.50" height="14.50" fill="#297889"/>
<rect x="1162.20" y="233.00" width="14.50" height="14.50" fill="#398e87"/>
<rect x="1175.70" y="233.00" width="14.50" height="14.50" fill="#3d9786"/>
<rect x="1189.20" y="233.00" width="14.50" height="14.50" fill="#2f8088"/>
<rect x="1202.70" y="233.00" width="14.50" height="14.50" fill="#46a382"/>
<rect x="1216.20" y="233.00" width="14.50" height="14.50" fill="#63be72"/>
<rect x="1229.70" y="233.00" width="14.50" height="14.50" fill="#a0d65b"/>
<rect x="1243.20" y="233.00" width="14.50" height="14.50" fill="#aad85f"/>
<rect x="1256.70" y="233.00" width="14.50" height="14.50" fill="#dce478"/>
<rect x="1270.20" y="233.00" width="13.50" height="14.50" fill="#8cd061"/>
<rect x="946.20" y="246.50" width="14.50" height="14.50" fill="#252a9f"/>
<rect x="959.70" y="246.50" width="14.50" height="14.50" fill="#2a229b"/>
<rect x="973.20" y="246.50" width="14.50" height="14.50" fill="#2a2090"/>
<rect x="986.70" y="246.50" width="14.50" height="14.50" fill="#291b7b"/>
<rect x="1000.20" y="246.50" width="14.50" height="14.50" fill="#2a2090"/>
<rect x="1013.70" y="246.50" width="14.50" height="14.50" fill="#2a23a0"/>
<rect x="1027.20" y="246.50" width="14.50" height="14.50" fill="#291c80"/>
<rect x="1040.70" y="246.50" width="14.50" height="14.50" fill="#2a1e86"/>
<rect x="1054.20" y="246.50" width="14.50" height="14.50" fill="#2a1f8b"/>
<rect x="1067.70" y="246.50" width="14.50" height="14.50" fill="#2a229b"/>
<rect x="1081.20" y="246.50" width="14.50" height="14.50" fill="#173c9b"/>
<rect x="1094.70" y="246.50" width="14.50" height="14.50" fill="#14409a"/>
<rect x="1108.20" y="246.50" width="14.50" height="14.50" fill="#104c97"/>
<rect x="1121.70" y="246.50" width="14.50" height="14.50" fill="#104e96"/>
<rect x="1135.20" y="246.50" width="14.50" height="14.50" fill="#2a7a89"/>
<rect x="1148.70" y="246.50" width="14.50" height="14.50" fill="#2e7e88"/>
<rect x="1162.20" y="246.50" width="14.50" height="14.50" fill="#2f8088"/>
<rect x="1175.70" y="246.50" width="14.50" height="14.50" fill="#3f9986"/>
<rect x="1189.20" y="246.50" width="14.50" height="14.50" fill="#3c9586"/>
<rect x="1202.70" y="246.50" width="14.50" height="14.50" fill="#49a880"/>
<rect x="1216.20" y="246.50" width="14.50" height="14.50" fill="#51b27c"/>
<rect x="1229.70" y="246.50" width="14.50" height="14.50" fill="#79c968"/>
<rect x="1243.20" y="246.50" width="14.50" height="14.50" fill="#cadf6c"/>
<rect x="1256.70" y="246.50" width="14.50" height="14.50" fill="#b0d961"/>
<rect x="1270.20" y="246.50" width="13.50" height="14.50" fill="#66c070"/>
<rect x="946.20" y="260.00" width="14.50" height="14.50" fill="#2a2090"/>
<rect x="959.70" y="260.00" width="14.50" height="14.50" fill="#1f319d"/>
<rect x="973.20" y="260.00" width="14.50" height="14.50" fill="#222e9e"/>
<rect x="986.70" y="260.00" width="14.50" height="14.50" fill="#291a76"/>
<rect x="1000.20" y="260.00" width="14.50" height="14.50" fill="#291b7b"/>
<rect x="1013.70" y="260.00" width="14.50" height="14.50" fill="#2a2090"/>
<rect x="1027.20" y="260.00" width="14.50" height="14.50" fill="#291c80"/>
<rect x="1040.70" y="260.00" width="14.50" height="14.50" fill="#291c80"/>
<rect x="1054.20" y="260.00" width="14.50" height="14.50" fill="#2a2090"/>
<rect x="1067.70" y="260.00" width="14.50" height="14.50" fill="#252a9f"/>
<rect x="1081.20" y="260.00" width="14.50" height="14.50" fill="#2a2195"/>
<rect x="1094.70" y="260.00" width="14.50" height="14.50" fill="#1c359c"/>
<rect x="1108.20" y="260.00" width="14.50" height="14.50" fill="#115a90"/>
<rect x="1121.70" y="260.00" width="14.50" height="14.50" fill="#104c97"/>
<rect x="1135.20" y="260.00" width="14.50" height="14.50" fill="#16638d"/>
<rect x="1148.70" y="260.00" width="14.50" height="14.50" fill="#2e7e88"/>
<rect x="1162.20" y="260.00" width="14.50" height="14.50" fill="#1e6c8b"/>
<rect x="1175.70" y="260.00" width="14.50" height="14.50" fill="#47a581"/>
<rect x="1189.20" y="260.00" width="14.50" height="14.50" fill="#2f8088"/>
<rect x="1202.70" y="260.00" width="14.50" height="14.50" fill="#3c9586"/>
<rect x="1216.20" y="260.00" width="14.50" height="14.50" fill="#51b27c"/>
<rect x="1229.70" y="260.00" width="14.50" height="14.50" fill="#88ce63"/>
<rect x="1243.20" y="260.00" width="14.50" height="14.50" fill="#96d35e"/>
<rect x="1256.70" y="260.00" width="14.50" height="14.50" fill="#cadf6c"/>
<rect x="1270.20" y="260.00" width="13.50" height="14.50" fill="#60bc74"/>
<rect x="946.20" y="273.50" width="14.50" height="14.50" fill="#1a399c"/>
<rect x="959.70" y="273.50" width="14.50" height="14.50" fill="#2a1f8b"/>
<rect x="973.20" y="273.50" width="14.50" height="14.50" fill="#2a23a0"/>
<rect x="986.70" y="273.50" width="14.50" height="14.50" fill="#291a76"/>
<rect x="1000.20" y="273.50" width="14.50" height="14.50" fill="#2a1e86"/>
<rect x="1013.70" y="273.50" width="14.50" height="14.50" fill="#2a1f8b"/>
<rect x="1027.20" y="273.50" width="14.50" height="14.50" fill="#291b7b"/>
<rect x="1040.70" y="273.50" width="14.50" height="14.50" fill="#2a2090"/>
<rect x="1054.20" y="273.50" width="14.50" height="14.50" fill="#291c80"/>
<rect x="1067.70" y="273.50" width="14.50" height="14.50" fill="#2a23a0"/>
<rect x="1081.20" y="273.50" width="14.50" height="14.50" fill="#252a9f"/>
<rect x="1094.70" y="273.50" width="14.50" height="14.50" fill="#222e9e"/>
<rect x="1108.20" y="273.50" width="14.50" height="14.50" fill="#115a90"/>
<rect x="1121.70" y="273.50" width="14.50" height="14.50" fill="#1e6c8b"/>
<rect x="1135.20" y="273.50" width="14.50" height="14.50" fill="#115592"/>
<rect x="1148.70" y="273.50" width="14.50" height="14.50" fill="#2c7c89"/>
<rect x="1162.20" y="273.50" width="14.50" height="14.50" fill="#1e6c8b"/>
<rect x="1175.70" y="273.50" width="14.50" height="14.50" fill="#328488"/>
<rect x="1189.20" y="273.50" width="14.50" height="14.50" fill="#46a382"/>
<rect x="1202.70" y="273.50" width="14.50" height="14.50" fill="#419d85"/>
<rect x="1216.20" y="273.50" width="14.50" height="14.50" fill="#5dba75"/>
<rect x="1229.70" y="273.50" width="14.50" height="14.50" fill="#96d35e"/>
<rect x="1243.20" y="273.50" width="14.50" height="14.50" fill="#cfe06e"/>
<rect x="1256.70" y="273.50" width="14.50" height="14.50" fill="#e4e680"/>
<rect x="1270.20" y="273.50" width="13.50" height="14.50" fill="#5dba75"/>
<rect x="946.20" y="287.00" width="14.50" height="14.50" fill="#252a9f"/>
<rect x="959.70" y="287.00" width="14.50" height="14.50" fill="#2a23a0"/>
<rect x="973.20" y="287.00" width="14.50" height="14.50" fill="#291a76"/>
<rect x="986.70" y="287.00" width="14.50" height="14.50" fill="#2a2090"/>
<rect x="1000.20" y="287.00" width="14.50" height="14.50" fill="#291b7b"/>
<rect x="1013.70" y="287.00" width="14.50" height="14.50" fill="#291b7b"/>
<rect x="1027.20" y="287.00" width="14.50" height="14.50" fill="#291b7b"/>
<rect x="1040.70" y="287.00" width="14.50" height="14.50" fill="#2a2090"/>
<rect x="1054.20" y="287.00" width="14.50" height="14.50" fill="#2a2090"/>
<rect x="1067.70" y="287.00" width="14.50" height="14.50" fill="#2a229b"/>
<rect x="1081.20" y="287.00" width="14.50" height="14.50" fill="#252a9f"/>
<rect x="1094.70" y="287.00" width="14.50" height="14.50" fill="#1c359c"/>
<rect x="1108.20" y="287.00" width="14.50" height="14.50" fill="#14409a"/>
<rect x="1121.70" y="287.00" width="14.50" height="14.50" fill="#22708a"/>
<rect x="1135.20" y="287.00" width="14.50" height="14.50" fill="#16638d"/>
<rect x="1148.70" y="287.00" width="14.50" height="14.50" fill="#1e6c8b"/>
<rect x="1162.20" y="287.00" width="14.50" height="14.50" fill="#328488"/>
<rect x="1175.70" y="287.00" width="14.50" height="14.50" fill="#3b9286"/>
<rect x="1189.20" y="287.00" width="14.50" height="14.50" fill="#358888"/>
<rect x="1202.70" y="287.00" width="14.50" height="14.50" fill="#3c9586"/>
<rect x="1216.20" y="287.00" width="14.50" height="14.50" fill="#69c26e"/>
<rect x="1229.70" y="287.00" width="14.50" height="14.50" fill="#7ecb66"/>
<rect x="1243.20" y="287.00" width="14.50" height="14.50" fill="#cfe06e"/>
<rect x="1256.70" y="287.00" width="14.50" height="14.50" fill="#d4e170"/>
<rect x="1270.20" y="287.00" width="13.50" height="14.50" fill="#66c070"/>
<rect x="946.20" y="300.50" width="14.50" height="14.50" fill="#2a1f8b"/>
<rect x="959.70" y="300.50" width="14.50" height="14.50" fill="#2a1f8b"/>
<rect x="973.20" y="300.50" width="14.50" height="14.50" fill="#291b7b"/>
<rect x="986.70" y="300.50" width="14.50" height="14.50" fill="#291a76"/>
<rect x="1000.20" y="300.50" width="14.50" height="14.50" fill="#2a2195"/>
<rect x="1013.70" y="300.50" width="14.50" height="14.50" fill="#2a1e86"/>
<rect x="1027.20" y="300.50" width="14.50" height="14.50" fill="#2a1f8b"/>
<rect x="1040.70" y="300.50" width="14.50" height="14.50" fill="#2a1e86"/>
<rect x="1054.20" y="300.50" width="14.50" height="14.50" fill="#2a2090"/>
<rect x="1067.70" y="300.50" width="14.50" height="14.50" fill="#2a229b"/>
<rect x="1081.20" y="300.50" width="14.50" height="14.50" fill="#2a2090"/>
<rect x="1094.70" y="300.50" width="14.50" height="14.50" fill="#0f4799"/>
<rect x="1108.20" y="300.50" width="14.50" height="14.50" fill="#104c97"/>
<rect x="1121.70" y="300.50" width="14.50" height="14.50" fill="#1e6c8b"/>
<rect x="1135.20" y="300.50" width="14.50" height="14.50" fill="#115a90"/>
<rect x="1148.70" y="300.50" width="14.50" height="14.50" fill="#22708a"/>
<rect x="1162.20" y="300.50" width="14.50" height="14.50" fill="#328488"/>
<rect x="1175.70" y="300.50" width="14.50" height="14.50" fill="#328488"/>
<rect x="1189.20" y="300.50" width="14.50" height="14.50" fill="#3c9586"/>
<rect x="1202.70" y="300.50" width="14.50" height="14.50" fill="#3d9786"/>
<rect x="1216.20" y="300.50" width="14.50" height="14.50" fill="#51b27c"/>
<rect x="1229.70" y="300.50" width="14.50" height="14.50" fill="#79c968"/>
<rect x="1243.20" y="300.50" width="14.50" height="14.50" fill="#bfdd68"/>
<rect x="1256.70" y="300.50" width="14.50" height="14.50" fill="#e0e57c"/>
<rect x="1270.20" y="300.50" width="13.50" height="14.50" fill="#83cc65"/>
<rect x="946.20" y="314.00" width="14.50" height="14.50" fill="#173c9b"/>
<rect x="959.70" y="314.00" width="14.50" height="14.50" fill="#2a2195"/>
<rect x="973.20" y="314.00" width="14.50" height="14.50" fill="#291b7b"/>
<rect x="986.70" y="314.00" width="14.50" height="14.50" fill="#291a76"/>
<rect x="1000.20" y="314.00" width="14.50" height="14.50" fill="#291c80"/>
<rect x="1013.70" y="314.00" width="14.50" height="14.50" fill="#2a1f8b"/>
<rect x="1027.20" y="314.00" width="14.50" height="14.50" fill="#291b7b"/>
<rect x="1040.70" y="314.00" width="14.50" height="14.50" fill="#291b7b"/>
<rect x="1054.20" y="314.00" width="14.50" height="14.50" fill="#2a1e86"/>
<rect x="1067.70" y="314.00" width="14.50" height="14.50" fill="#2a229b"/>
<rect x="1081.20" y="314.00" width="14.50" height="14.50" fill="#2a1f8b"/>
<rect x="1094.70" y="314.00" width="14.50" height="14.50" fill="#2a2090"/>
<rect x="1108.20" y="314.00" width="14.50" height="14.50" fill="#173c9b"/>
<rect x="1121.70" y="314.00" width="14.50" height="14.50" fill="#0f4998"/>
<rect x="1135.20" y="314.00" width="14.50" height="14.50" fill="#1e6c8b"/>
<rect x="1148.70" y="314.00" width="14.50" height="14.50" fill="#267489"/>
<rect x="1162.20" y="314.00" width="14.50" height="14.50" fill="#2a7a89"/>
<rect x="1175.70" y="314.00" width="14.50" height="14.50" fill="#358888"/>
<rect x="1189.20" y="314.00" width="14.50" height="14.50" fill="#378c87"/>
<rect x="1202.70" y="314.00" width="14.50" height="14.50" fill="#3c9586"/>
<rect x="1216.20" y="314.00" width="14.50" height="14.50" fill="#51b27c"/>
<rect x="1229.70" y="314.00" width="14.50" height="14.50" fill="#83cc65"/>
<rect x="1243.20" y="314.00" width="14.50" height="14.50" fill="#bfdd68"/>
<rect x="1256.70" y="314.00" width="14.50" height="14.50" fill="#d8e274"/>
<rect x="1270.20" y="314.00" width="13.50" height="14.50" fill="#63be72"/>
<rect x="946.20" y="327.50" width="14.50" height="14.50" fill="#222e9e"/>
<rect x="959.70" y="327.50" width="14.50" height="14.50" fill="#2a2195"/>
<rect x="973.20" y="327.50" width="14.50" height="14.50" fill="#2a23a0"/>
<rect x="986.70" y="327.50" width="14.50" height="14.50" fill="#291a76"/>
<rect x="1000.20" y="327.50" width="14.50" height="14.50" fill="#291c80"/>
<rect x="1013.70" y="327.50" width="14.50" height="14.50" fill="#2a1f8b"/>
<rect x="1027.20" y="327.50" width="14.50" height="14.50" fill="#291b7b"/>
<rect x="1040.70" y="327.50" width="14.50" height="14.50" fill="#291970"/>
<rect x="1054.20" y="327.50" width="14.50" height="14.50" fill="#1f319d"/>
<rect x="1067.70" y="327.50" width="14.50" height="14.50" fill="#2a23a0"/>
<rect x="1081.20" y="327.50" width="14.50" height="14.50" fill="#1f319d"/>
<rect x="1094.70" y="327.50" width="14.50" height="14.50" fill="#1a399c"/>
<rect x="1108.20" y="327.50" width="14.50" height="14.50" fill="#173c9b"/>
<rect x="1121.70" y="327.50" width="14.50" height="14.50" fill="#115a90"/>
<rect x="1135.20" y="327.50" width="14.50" height="14.50" fill="#2a7a89"/>
<rect x="1148.70" y="327.50" width="14.50" height="14.50" fill="#2c7c89"/>
<rect x="1162.20" y="327.50" width="14.50" height="14.50" fill="#2c7c89"/>
<rect x="1175.70" y="327.50" width="14.50" height="14.50" fill="#22708a"/>
<rect x="1189.20" y="327.50" width="14.50" height="14.50" fill="#267489"/>
<rect x="1202.70" y="327.50" width="14.50" height="14.50" fill="#419d85"/>
<rect x="1216.20" y="327.50" width="14.50" height="14.50" fill="#69c26e"/>
<rect x="1229.70" y="327.50" width="14.50" height="14.50" fill="#7ecb66"/>
<rect x="1243.20" y="327.50" width="14.50" height="14.50" fill="#aad85f"/>
<rect x="1256.70" y="327.50" width="14.50" height="14.50" fill="#e0e57c"/>
<rect x="1270.20" y="327.50" width="13.50" height="14.50" fill="#51b27c"/>
<rect x="946.20" y="341.00" width="14.50" height="14.50" fill="#222e9e"/>
<rect x="959.70" y="341.00" width="14.50" height="14.50" fill="#2a2195"/>
<rect x="973.20" y="341.00" width="14.50" height="14.50" fill="#2a23a0"/>
<rect x="986.70" y="341.00" width="14.50" height="14.50" fill="#291a76"/>
<rect x="1000.20" y="341.00" width="14.50" height="14.50" fill="#291a76"/>
<rect x="1013.70" y="341.00" width="14.50" height="14.50" fill="#2a1e86"/>
<rect x="1027.20" y="341.00" width="14.50" height="14.50" fill="#291b7b"/>
<rect x="1040.70" y="341.00" width="14.50" height="14.50" fill="#2a2195"/>
<rect x="1054.20" y="341.00" width="14.50" height="14.50" fill="#2a2195"/>
<rect x="1067.70" y="341.00" width="14.50" height="14.50" fill="#2a2090"/>
<rect x="1081.20" y="341.00" width="14.50" height="14.50" fill="#2a2090"/>
<rect x="1094.70" y="341.00" width="14.50" height="14.50" fill="#27279f"/>
<rect x="1108.20" y="341.00" width="14.50" height="14.50" fill="#0f4998"/>
<rect x="1121.70" y="341.00" width="14.50" height="14.50" fill="#22708a"/>
<rect x="1135.20" y="341.00" width="14.50" height="14.50" fill="#16638d"/>
<rect x="1148.70" y="341.00" width="14.50" height="14.50" fill="#1c6a8c"/>
<rect x="1162.20" y="341.00" width="14.50" height="14.50" fill="#2f8088"/>
<rect x="1175.70" y="341.00" width="14.50" height="14.50" fill="#358888"/>
<rect x="1189.20" y="341.00" width="14.50" height="14.50" fill="#358888"/>
<rect x="1202.70" y="341.00" width="14.50" height="14.50" fill="#419d85"/>
<rect x="1216.20" y="341.00" width="14.50" height="14.50" fill="#60bc74"/>
<rect x="1229.70" y="341.00" width="14.50" height="14.50" fill="#7ecb66"/>
<rect x="1243.20" y="341.00" width="14.50" height="14.50" fill="#cfe06e"/>
<rect x="1256.70" y="341.00" width="14.50" height="14.50" fill="#d4e170"/>
<rect x="1270.20" y="341.00" width="13.50" height="14.50" fill="#60bc74"/>
<rect x="946.20" y="354.50" width="14.50" height="13.50" fill="#14409a"/>
<rect x="959.70" y="354.50" width="14.50" height="13.50" fill="#2a2090"/>
<rect x="973.20" y="354.50" width="14.50" height="13.50" fill="#2a229b"/>
<rect x="986.70" y="354.50" width="14.50" height="13.50" fill="#2a1e86"/>
<rect x="1000.20" y="354.50" width="14.50" height="13.50" fill="#2a2090"/>
<rect x="1013.70" y="354.50" width="14.50" height="13.50" fill="#291a76"/>
<rect x="1027.20" y="354.50" width="14.50" height="13.50" fill="#291a76"/>
<rect x="1040.70" y="354.50" width="14.50" height="13.50" fill="#291a76"/>
<rect x="1054.20" y="354.50" width="14.50" height="13.50" fill="#2a2090"/>
<rect x="1067.70" y="354.50" width="14.50" height="13.50" fill="#2a1f8b"/>
<rect x="1081.20" y="354.50" width="14.50" height="13.50" fill="#2a2090"/>
<rect x="1094.70" y="354.50" width="14.50" height="13.50" fill="#12439a"/>
<rect x="1108.20" y="354.50" width="14.50" height="13.50" fill="#104e96"/>
<rect x="1121.70" y="354.50" width="14.50" height="13.50" fill="#0f4799"/>
<rect x="1135.20" y="354.50" width="14.50" height="13.50" fill="#115592"/>
<rect x="1148.70" y="354.50" width="14.50" height="13.50" fill="#2c7c89"/>
<rect x="1162.20" y="354.50" width="14.50" height="13.50" fill="#2c7c89"/>
<rect x="1175.70" y="354.50" width="14.50" height="13.50" fill="#398e87"/>
<rect x="1189.20" y="354.50" width="14.50" height="13.50" fill="#358888"/>
<rect x="1202.70" y="354.50" width="14.50" height="13.50" fill="#378c87"/>
<rect x="1216.20" y="354.50" width="14.50" height="13.50" fill="#4eae7e"/>
<rect x="1229.70" y="354.50" width="14.50" height="13.50" fill="#83cc65"/>
<rect x="1243.20" y="354.50" width="14.50" height="13.50" fill="#aad85f"/>
<rect x="1256.70" y="354.50" width="14.50" height="13.50" fill="#e0e57c"/>
<rect x="1270.20" y="354.50" width="13.50" height="13.50" fill="#60bc74"/>
</g>
<path d="M929.50 14.10V385.00H1300.80" fill="none" stroke="#000" stroke-width="2.40" stroke-linecap="butt" stroke-linejoin="miter"/>
<line x1="922.40" y1="361.55" x2="928.50" y2="361.55" stroke="#333" stroke-width="2.70"/>
<text transform="translate(917.00 371.95) scale(1 1.045)" text-anchor="end" font-size="27.60">0.00</text>
<line x1="922.40" y1="280.55" x2="928.50" y2="280.55" stroke="#333" stroke-width="2.70"/>
<text transform="translate(917.00 290.95) scale(1 1.045)" text-anchor="end" font-size="27.60">0.25</text>
<line x1="922.40" y1="199.55" x2="928.50" y2="199.55" stroke="#333" stroke-width="2.70"/>
<text transform="translate(917.00 209.95) scale(1 1.045)" text-anchor="end" font-size="27.60">0.50</text>
<line x1="922.40" y1="118.55" x2="928.50" y2="118.55" stroke="#333" stroke-width="2.70"/>
<text transform="translate(917.00 128.95) scale(1 1.045)" text-anchor="end" font-size="27.60">0.75</text>
<line x1="922.40" y1="37.55" x2="928.50" y2="37.55" stroke="#333" stroke-width="2.70"/>
<text transform="translate(917.00 47.95) scale(1 1.045)" text-anchor="end" font-size="27.60">1.00</text>
<line x1="952.95" y1="386.00" x2="952.95" y2="392.10" stroke="#333" stroke-width="2.70"/>
<text transform="translate(973.55 397.60) rotate(-90) scale(1 1.045)" text-anchor="end" font-size="27.60">0.00</text>
<line x1="1033.95" y1="386.00" x2="1033.95" y2="392.10" stroke="#333" stroke-width="2.70"/>
<text transform="translate(1054.55 397.60) rotate(-90) scale(1 1.045)" text-anchor="end" font-size="27.60">0.25</text>
<line x1="1114.95" y1="386.00" x2="1114.95" y2="392.10" stroke="#333" stroke-width="2.70"/>
<text transform="translate(1135.55 397.60) rotate(-90) scale(1 1.045)" text-anchor="end" font-size="27.60">0.50</text>
<line x1="1195.95" y1="386.00" x2="1195.95" y2="392.10" stroke="#333" stroke-width="2.70"/>
<text transform="translate(1216.55 397.60) rotate(-90) scale(1 1.045)" text-anchor="end" font-size="27.60">0.75</text>
<line x1="1276.95" y1="386.00" x2="1276.95" y2="392.10" stroke="#333" stroke-width="2.70"/>
<text transform="translate(1297.55 397.60) rotate(-90) scale(1 1.045)" text-anchor="end" font-size="27.60">1.00</text>
<text transform="translate(850.60 199.40) rotate(-90) scale(1 1.020)" text-anchor="middle" font-size="27.60">Blockade</text>
<text transform="translate(1115.10 477.90) scale(1 1.020)" text-anchor="middle" font-size="27.60">Suppression</text>
<text x="830.20" y="20.60" font-size="27.60" font-weight="bold" stroke="none">b</text>
<defs><linearGradient id="gb" x1="0" y1="1" x2="0" y2="0">
<stop offset="0.0000" stop-color="#29186b"/>
<stop offset="0.0909" stop-color="#2a23a0"/>
<stop offset="0.1818" stop-color="#0f4799"/>
<stop offset="0.2727" stop-color="#125f8e"/>
<stop offset="0.3636" stop-color="#267489"/>
<stop offset="0.4545" stop-color="#358888"/>
<stop offset="0.5455" stop-color="#419d85"/>
<stop offset="0.6364" stop-color="#51b27c"/>
<stop offset="0.7273" stop-color="#6fc66b"/>
<stop offset="0.8182" stop-color="#a0d65b"/>
<stop offset="0.9091" stop-color="#d4e170"/>
<stop offset="1.0000" stop-color="#fdee99"/>
</linearGradient></defs>
<rect x="1348.10" y="120.50" width="40.20" height="197.60" fill="url(#gb)"/>
<path d="M1348.10 120.50h8.04M1380.26 120.50h8.04" stroke="#fff" stroke-width="1.1" fill="none"/>
<path d="M1348.10 169.90h8.04M1380.26 169.90h8.04" stroke="#fff" stroke-width="1.1" fill="none"/>
<path d="M1348.10 219.30h8.04M1380.26 219.30h8.04" stroke="#fff" stroke-width="1.1" fill="none"/>
<path d="M1348.10 268.70h8.04M1380.26 268.70h8.04" stroke="#fff" stroke-width="1.1" fill="none"/>
<path d="M1348.10 318.10h8.04M1380.26 318.10h8.04" stroke="#fff" stroke-width="1.1" fill="none"/>
<text transform="translate(1402.00 128.40) scale(1 0.990)" font-size="23.00">1.00</text>
<text transform="translate(1402.00 177.80) scale(1 0.990)" font-size="23.00">0.75</text>
<text transform="translate(1402.00 227.20) scale(1 0.990)" font-size="23.00">0.50</text>
<text transform="translate(1402.00 276.60) scale(1 0.990)" font-size="23.00">0.25</text>
<text transform="translate(1402.00 326.00) scale(1 0.990)" font-size="23.00">0.00</text>
<text transform="translate(1348.10 102.80) scale(1 1.020)" font-size="27.60">Probabilit<tspan dx="0.6">y</tspan></text>
<g>
<rect x="116.90" y="528.40" width="14.50" height="14.50" fill="#29186b"/>
<rect x="130.40" y="528.40" width="14.50" height="14.50" fill="#29186b"/>
<rect x="143.90" y="528.40" width="14.50" height="14.50" fill="#29186b"/>
<rect x="157.40" y="528.40" width="14.50" height="14.50" fill="#29186b"/>
<rect x="170.90" y="528.40" width="14.50" height="14.50" fill="#29186b"/>
<rect x="184.40" y="528.40" width="14.50" height="14.50" fill="#29186b"/>
<rect x="197.90" y="528.40" width="14.50" height="14.50" fill="#29186b"/>
<rect x="211.40" y="528.40" width="14.50" height="14.50" fill="#29186b"/>
<rect x="224.90" y="528.40" width="14.50" height="14.50" fill="#29186b"/>
<rect x="238.40" y="528.40" width="14.50" height="14.50" fill="#29186b"/>
<rect x="251.90" y="528.40" width="14.50" height="14.50" fill="#29186b"/>
<rect x="265.40" y="528.40" width="14.50" height="14.50" fill="#29186b"/>
<rect x="278.90" y="528.40" width="14.50" height="14.50" fill="#29186b"/>
<rect x="292.40" y="528.40" width="14.50" height="14.50" fill="#29186b"/>
<rect x="305.90" y="528.40" width="14.50" height="14.50" fill="#29186b"/>
<rect x="319.40" y="528.40" width="14.50" height="14.50" fill="#29186b"/>
<rect x="332.90" y="528.40" width="14.50" height="14.50" fill="#29186b"/>
<rect x="346.40" y="528.40" width="14.50" height="14.50" fill="#29186b"/>
<rect x="359.90" y="528.40" width="14.50" height="14.50" fill="#29186b"/>
<rect x="373.40" y="528.40" width="14.50" height="14.50" fill="#29186b"/>
<rect x="386.90" y="528.40" width="14.50" height="14.50" fill="#29186b"/>
<rect x="400.40" y="528.40" width="14.50" height="14.50" fill="#29186b"/>
<rect x="413.90" y="528.40" width="14.50" height="14.50" fill="#29186b"/>
<rect x="427.40" y="528.40" width="14.50" height="14.50" fill="#29186b"/>
<rect x="440.90" y="528.40" width="13.50" height="14.50" fill="#29186b"/>
<rect x="116.90" y="541.90" width="14.50" height="14.50" fill="#1c6a8c"/>
<rect x="130.40" y="541.90" width="14.50" height="14.50" fill="#125f8e"/>
<rect x="143.90" y="541.90" width="14.50" height="14.50" fill="#2f8088"/>
<rect x="157.40" y="541.90" width="14.50" height="14.50" fill="#125f8e"/>
<rect x="170.90" y="541.90" width="14.50" height="14.50" fill="#115a90"/>
<rect x="184.40" y="541.90" width="14.50" height="14.50" fill="#267489"/>
<rect x="197.90" y="541.90" width="14.50" height="14.50" fill="#105195"/>
<rect x="211.40" y="541.90" width="14.50" height="14.50" fill="#104c97"/>
<rect x="224.90" y="541.90" width="14.50" height="14.50" fill="#125f8e"/>
<rect x="238.40" y="541.90" width="14.50" height="14.50" fill="#125f8e"/>
<rect x="251.90" y="541.90" width="14.50" height="14.50" fill="#104c97"/>
<rect x="265.40" y="541.90" width="14.50" height="14.50" fill="#125f8e"/>
<rect x="278.90" y="541.90" width="14.50" height="14.50" fill="#16638d"/>
<rect x="292.40" y="541.90" width="14.50" height="14.50" fill="#22708a"/>
<rect x="305.90" y="541.90" width="14.50" height="14.50" fill="#1c6a8c"/>
<rect x="319.40" y="541.90" width="14.50" height="14.50" fill="#125f8e"/>
<rect x="332.90" y="541.90" width="14.50" height="14.50" fill="#206e8a"/>
<rect x="346.40" y="541.90" width="14.50" height="14.50" fill="#104e96"/>
<rect x="359.90" y="541.90" width="14.50" height="14.50" fill="#115a90"/>
<rect x="373.40" y="541.90" width="14.50" height="14.50" fill="#14409a"/>
<rect x="386.90" y="541.90" width="14.50" height="14.50" fill="#1a399c"/>
<rect x="400.40" y="541.90" width="14.50" height="14.50" fill="#2a23a0"/>
<rect x="413.90" y="541.90" width="14.50" height="14.50" fill="#2a1f8b"/>
<rect x="427.40" y="541.90" width="14.50" height="14.50" fill="#2a1e86"/>
<rect x="440.90" y="541.90" width="13.50" height="14.50" fill="#29186b"/>
<rect x="116.90" y="555.40" width="14.50" height="14.50" fill="#1c6a8c"/>
<rect x="130.40" y="555.40" width="14.50" height="14.50" fill="#105394"/>
<rect x="143.90" y="555.40" width="14.50" height="14.50" fill="#2a7a89"/>
<rect x="157.40" y="555.40" width="14.50" height="14.50" fill="#297889"/>
<rect x="170.90" y="555.40" width="14.50" height="14.50" fill="#104c97"/>
<rect x="184.40" y="555.40" width="14.50" height="14.50" fill="#104e96"/>
<rect x="197.90" y="555.40" width="14.50" height="14.50" fill="#125f8e"/>
<rect x="211.40" y="555.40" width="14.50" height="14.50" fill="#206e8a"/>
<rect x="224.90" y="555.40" width="14.50" height="14.50" fill="#105195"/>
<rect x="238.40" y="555.40" width="14.50" height="14.50" fill="#1e6c8b"/>
<rect x="251.90" y="555.40" width="14.50" height="14.50" fill="#297889"/>
<rect x="265.40" y="555.40" width="14.50" height="14.50" fill="#16638d"/>
<rect x="278.90" y="555.40" width="14.50" height="14.50" fill="#1e6c8b"/>
<rect x="292.40" y="555.40" width="14.50" height="14.50" fill="#1e6c8b"/>
<rect x="305.90" y="555.40" width="14.50" height="14.50" fill="#18658c"/>
<rect x="319.40" y="555.40" width="14.50" height="14.50" fill="#1e6c8b"/>
<rect x="332.90" y="555.40" width="14.50" height="14.50" fill="#22708a"/>
<rect x="346.40" y="555.40" width="14.50" height="14.50" fill="#18658c"/>
<rect x="359.90" y="555.40" width="14.50" height="14.50" fill="#1a399c"/>
<rect x="373.40" y="555.40" width="14.50" height="14.50" fill="#125f8e"/>
<rect x="386.90" y="555.40" width="14.50" height="14.50" fill="#252a9f"/>
<rect x="400.40" y="555.40" width="14.50" height="14.50" fill="#2a229b"/>
<rect x="413.90" y="555.40" width="14.50" height="14.50" fill="#291c80"/>
<rect x="427.40" y="555.40" width="14.50" height="14.50" fill="#291a76"/>
<rect x="440.90" y="555.40" width="13.50" height="14.50" fill="#29186b"/>
<rect x="116.90" y="568.90" width="14.50" height="14.50" fill="#328488"/>
<rect x="130.40" y="568.90" width="14.50" height="14.50" fill="#125f8e"/>
<rect x="143.90" y="568.90" width="14.50" height="14.50" fill="#308288"/>
<rect x="157.40" y="568.90" width="14.50" height="14.50" fill="#267489"/>
<rect x="170.90" y="568.90" width="14.50" height="14.50" fill="#206e8a"/>
<rect x="184.40" y="568.90" width="14.50" height="14.50" fill="#1a678c"/>
<rect x="197.90" y="568.90" width="14.50" height="14.50" fill="#267489"/>
<rect x="211.40" y="568.90" width="14.50" height="14.50" fill="#115a90"/>
<rect x="224.90" y="568.90" width="14.50" height="14.50" fill="#1e6c8b"/>
<rect x="238.40" y="568.90" width="14.50" height="14.50" fill="#206e8a"/>
<rect x="251.90" y="568.90" width="14.50" height="14.50" fill="#297889"/>
<rect x="265.40" y="568.90" width="14.50" height="14.50" fill="#22708a"/>
<rect x="278.90" y="568.90" width="14.50" height="14.50" fill="#308288"/>
<rect x="292.40" y="568.90" width="14.50" height="14.50" fill="#348688"/>
<rect x="305.90" y="568.90" width="14.50" height="14.50" fill="#18658c"/>
<rect x="319.40" y="568.90" width="14.50" height="14.50" fill="#104c97"/>
<rect x="332.90" y="568.90" width="14.50" height="14.50" fill="#104e96"/>
<rect x="346.40" y="568.90" width="14.50" height="14.50" fill="#297889"/>
<rect x="359.90" y="568.90" width="14.50" height="14.50" fill="#115a90"/>
<rect x="373.40" y="568.90" width="14.50" height="14.50" fill="#0f4799"/>
<rect x="386.90" y="568.90" width="14.50" height="14.50" fill="#252a9f"/>
<rect x="400.40" y="568.90" width="14.50" height="14.50" fill="#2a23a0"/>
<rect x="413.90" y="568.90" width="14.50" height="14.50" fill="#2a229b"/>
<rect x="427.40" y="568.90" width="14.50" height="14.50" fill="#291a76"/>
<rect x="440.90" y="568.90" width="13.50" height="14.50" fill="#29186b"/>
<rect x="116.90" y="582.40" width="14.50" height="14.50" fill="#328488"/>
<rect x="130.40" y="582.40" width="14.50" height="14.50" fill="#16638d"/>
<rect x="143.90" y="582.40" width="14.50" height="14.50" fill="#328488"/>
<rect x="157.40" y="582.40" width="14.50" height="14.50" fill="#328488"/>
<rect x="170.90" y="582.40" width="14.50" height="14.50" fill="#267489"/>
<rect x="184.40" y="582.40" width="14.50" height="14.50" fill="#358888"/>
<rect x="197.90" y="582.40" width="14.50" height="14.50" fill="#297889"/>
<rect x="211.40" y="582.40" width="14.50" height="14.50" fill="#3f9986"/>
<rect x="224.90" y="582.40" width="14.50" height="14.50" fill="#105195"/>
<rect x="238.40" y="582.40" width="14.50" height="14.50" fill="#267489"/>
<rect x="251.90" y="582.40" width="14.50" height="14.50" fill="#16638d"/>
<rect x="265.40" y="582.40" width="14.50" height="14.50" fill="#419d85"/>
<rect x="278.90" y="582.40" width="14.50" height="14.50" fill="#308288"/>
<rect x="292.40" y="582.40" width="14.50" height="14.50" fill="#24728a"/>
<rect x="305.90" y="582.40" width="14.50" height="14.50" fill="#16638d"/>
<rect x="319.40" y="582.40" width="14.50" height="14.50" fill="#22708a"/>
<rect x="332.90" y="582.40" width="14.50" height="14.50" fill="#2f8088"/>
<rect x="346.40" y="582.40" width="14.50" height="14.50" fill="#104c97"/>
<rect x="359.90" y="582.40" width="14.50" height="14.50" fill="#18658c"/>
<rect x="373.40" y="582.40" width="14.50" height="14.50" fill="#1a678c"/>
<rect x="386.90" y="582.40" width="14.50" height="14.50" fill="#14409a"/>
<rect x="400.40" y="582.40" width="14.50" height="14.50" fill="#2a23a0"/>
<rect x="413.90" y="582.40" width="14.50" height="14.50" fill="#291c80"/>
<rect x="427.40" y="582.40" width="14.50" height="14.50" fill="#291a76"/>
<rect x="440.90" y="582.40" width="13.50" height="14.50" fill="#29186b"/>
<rect x="116.90" y="595.90" width="14.50" height="14.50" fill="#267489"/>
<rect x="130.40" y="595.90" width="14.50" height="14.50" fill="#125f8e"/>
<rect x="143.90" y="595.90" width="14.50" height="14.50" fill="#47a581"/>
<rect x="157.40" y="595.90" width="14.50" height="14.50" fill="#125f8e"/>
<rect x="170.90" y="595.90" width="14.50" height="14.50" fill="#297889"/>
<rect x="184.40" y="595.90" width="14.50" height="14.50" fill="#0f4799"/>
<rect x="197.90" y="595.90" width="14.50" height="14.50" fill="#297889"/>
<rect x="211.40" y="595.90" width="14.50" height="14.50" fill="#1e6c8b"/>
<rect x="224.90" y="595.90" width="14.50" height="14.50" fill="#16638d"/>
<rect x="238.40" y="595.90" width="14.50" height="14.50" fill="#1e6c8b"/>
<rect x="251.90" y="595.90" width="14.50" height="14.50" fill="#328488"/>
<rect x="265.40" y="595.90" width="14.50" height="14.50" fill="#16638d"/>
<rect x="278.90" y="595.90" width="14.50" height="14.50" fill="#14618e"/>
<rect x="292.40" y="595.90" width="14.50" height="14.50" fill="#267489"/>
<rect x="305.90" y="595.90" width="14.50" height="14.50" fill="#328488"/>
<rect x="319.40" y="595.90" width="14.50" height="14.50" fill="#328488"/>
<rect x="332.90" y="595.90" width="14.50" height="14.50" fill="#14618e"/>
<rect x="346.40" y="595.90" width="14.50" height="14.50" fill="#348688"/>
<rect x="359.90" y="595.90" width="14.50" height="14.50" fill="#104c97"/>
<rect x="373.40" y="595.90" width="14.50" height="14.50" fill="#18658c"/>
<rect x="386.90" y="595.90" width="14.50" height="14.50" fill="#1f319d"/>
<rect x="400.40" y="595.90" width="14.50" height="14.50" fill="#1a399c"/>
<rect x="413.90" y="595.90" width="14.50" height="14.50" fill="#2a1e86"/>
<rect x="427.40" y="595.90" width="14.50" height="14.50" fill="#291c80"/>
<rect x="440.90" y="595.90" width="13.50" height="14.50" fill="#291970"/>
<rect x="116.90" y="609.40" width="14.50" height="14.50" fill="#3c9586"/>
<rect x="130.40" y="609.40" width="14.50" height="14.50" fill="#51b27c"/>
<rect x="143.90" y="609.40" width="14.50" height="14.50" fill="#44a183"/>
<rect x="157.40" y="609.40" width="14.50" height="14.50" fill="#22708a"/>
<rect x="170.90" y="609.40" width="14.50" height="14.50" fill="#267489"/>
<rect x="184.40" y="609.40" width="14.50" height="14.50" fill="#3f9986"/>
<rect x="197.90" y="609.40" width="14.50" height="14.50" fill="#358888"/>
<rect x="211.40" y="609.40" width="14.50" height="14.50" fill="#16638d"/>
<rect x="224.90" y="609.40" width="14.50" height="14.50" fill="#22708a"/>
<rect x="238.40" y="609.40" width="14.50" height="14.50" fill="#22708a"/>
<rect x="251.90" y="609.40" width="14.50" height="14.50" fill="#419d85"/>
<rect x="265.40" y="609.40" width="14.50" height="14.50" fill="#16638d"/>
<rect x="278.90" y="609.40" width="14.50" height="14.50" fill="#1e6c8b"/>
<rect x="292.40" y="609.40" width="14.50" height="14.50" fill="#419d85"/>
<rect x="305.90" y="609.40" width="14.50" height="14.50" fill="#125f8e"/>
<rect x="319.40" y="609.40" width="14.50" height="14.50" fill="#358888"/>
<rect x="332.90" y="609.40" width="14.50" height="14.50" fill="#267489"/>
<rect x="346.40" y="609.40" width="14.50" height="14.50" fill="#267489"/>
<rect x="359.90" y="609.40" width="14.50" height="14.50" fill="#22708a"/>
<rect x="373.40" y="609.40" width="14.50" height="14.50" fill="#104e96"/>
<rect x="386.90" y="609.40" width="14.50" height="14.50" fill="#1a399c"/>
<rect x="400.40" y="609.40" width="14.50" height="14.50" fill="#2a23a0"/>
<rect x="413.90" y="609.40" width="14.50" height="14.50" fill="#2a1e86"/>
<rect x="427.40" y="609.40" width="14.50" height="14.50" fill="#291b7b"/>
<rect x="440.90" y="609.40" width="13.50" height="14.50" fill="#29186b"/>
<rect x="116.90" y="622.90" width="14.50" height="14.50" fill="#378c87"/>
<rect x="130.40" y="622.90" width="14.50" height="14.50" fill="#22708a"/>
<rect x="143.90" y="622.90" width="14.50" height="14.50" fill="#44a183"/>
<rect x="157.40" y="622.90" width="14.50" height="14.50" fill="#44a183"/>
<rect x="170.90" y="622.90" width="14.50" height="14.50" fill="#125f8e"/>
<rect x="184.40" y="622.90" width="14.50" height="14.50" fill="#3f9986"/>
<rect x="197.90" y="622.90" width="14.50" height="14.50" fill="#378c87"/>
<rect x="211.40" y="622.90" width="14.50" height="14.50" fill="#125f8e"/>
<rect x="224.90" y="622.90" width="14.50" height="14.50" fill="#1e6c8b"/>
<rect x="238.40" y="622.90" width="14.50" height="14.50" fill="#4baa80"/>
<rect x="251.90" y="622.90" width="14.50" height="14.50" fill="#14618e"/>
<rect x="265.40" y="622.90" width="14.50" height="14.50" fill="#115592"/>
<rect x="278.90" y="622.90" width="14.50" height="14.50" fill="#125f8e"/>
<rect x="292.40" y="622.90" width="14.50" height="14.50" fill="#115891"/>
<rect x="305.90" y="622.90" width="14.50" height="14.50" fill="#44a183"/>
<rect x="319.40" y="622.90" width="14.50" height="14.50" fill="#22708a"/>
<rect x="332.90" y="622.90" width="14.50" height="14.50" fill="#3f9986"/>
<rect x="346.40" y="622.90" width="14.50" height="14.50" fill="#267489"/>
<rect x="359.90" y="622.90" width="14.50" height="14.50" fill="#378c87"/>
<rect x="373.40" y="622.90" width="14.50" height="14.50" fill="#115592"/>
<rect x="386.90" y="622.90" width="14.50" height="14.50" fill="#1a399c"/>
<rect x="400.40" y="622.90" width="14.50" height="14.50" fill="#1a399c"/>
<rect x="413.90" y="622.90" width="14.50" height="14.50" fill="#2a1e86"/>
<rect x="427.40" y="622.90" width="14.50" height="14.50" fill="#291b7b"/>
<rect x="440.90" y="622.90" width="13.50" height="14.50" fill="#291c80"/>
<rect x="116.90" y="636.40" width="14.50" height="14.50" fill="#358888"/>
<rect x="130.40" y="636.40" width="14.50" height="14.50" fill="#79c968"/>
<rect x="143.90" y="636.40" width="14.50" height="14.50" fill="#2a2195"/>
<rect x="157.40" y="636.40" width="14.50" height="14.50" fill="#51b27c"/>
<rect x="170.90" y="636.40" width="14.50" height="14.50" fill="#51b27c"/>
<rect x="184.40" y="636.40" width="14.50" height="14.50" fill="#49a880"/>
<rect x="197.90" y="636.40" width="14.50" height="14.50" fill="#104e96"/>
<rect x="211.40" y="636.40" width="14.50" height="14.50" fill="#267489"/>
<rect x="224.90" y="636.40" width="14.50" height="14.50" fill="#419d85"/>
<rect x="238.40" y="636.40" width="14.50" height="14.50" fill="#1c6a8c"/>
<rect x="251.90" y="636.40" width="14.50" height="14.50" fill="#358888"/>
<rect x="265.40" y="636.40" width="14.50" height="14.50" fill="#3b9286"/>
<rect x="278.90" y="636.40" width="14.50" height="14.50" fill="#358888"/>
<rect x="292.40" y="636.40" width="14.50" height="14.50" fill="#297889"/>
<rect x="305.90" y="636.40" width="14.50" height="14.50" fill="#358888"/>
<rect x="319.40" y="636.40" width="14.50" height="14.50" fill="#18658c"/>
<rect x="332.90" y="636.40" width="14.50" height="14.50" fill="#2a7a89"/>
<rect x="346.40" y="636.40" width="14.50" height="14.50" fill="#297889"/>
<rect x="359.90" y="636.40" width="14.50" height="14.50" fill="#104e96"/>
<rect x="373.40" y="636.40" width="14.50" height="14.50" fill="#16638d"/>
<rect x="386.90" y="636.40" width="14.50" height="14.50" fill="#2a23a0"/>
<rect x="400.40" y="636.40" width="14.50" height="14.50" fill="#2a2195"/>
<rect x="413.90" y="636.40" width="14.50" height="14.50" fill="#2a1e86"/>
<rect x="427.40" y="636.40" width="14.50" height="14.50" fill="#2a229b"/>
<rect x="440.90" y="636.40" width="13.50" height="14.50" fill="#29186b"/>
<rect x="116.90" y="649.90" width="14.50" height="14.50" fill="#358888"/>
<rect x="130.40" y="649.90" width="14.50" height="14.50" fill="#3f9986"/>
<rect x="143.90" y="649.90" width="14.50" height="14.50" fill="#4eae7e"/>
<rect x="157.40" y="649.90" width="14.50" height="14.50" fill="#297889"/>
<rect x="170.90" y="649.90" width="14.50" height="14.50" fill="#22708a"/>
<rect x="184.40" y="649.90" width="14.50" height="14.50" fill="#115a90"/>
<rect x="197.90" y="649.90" width="14.50" height="14.50" fill="#267489"/>
<rect x="211.40" y="649.90" width="14.50" height="14.50" fill="#419d85"/>
<rect x="224.90" y="649.90" width="14.50" height="14.50" fill="#22708a"/>
<rect x="238.40" y="649.90" width="14.50" height="14.50" fill="#297889"/>
<rect x="251.90" y="649.90" width="14.50" height="14.50" fill="#2e7e88"/>
<rect x="265.40" y="649.90" width="14.50" height="14.50" fill="#1e6c8b"/>
<rect x="278.90" y="649.90" width="14.50" height="14.50" fill="#419d85"/>
<rect x="292.40" y="649.90" width="14.50" height="14.50" fill="#378c87"/>
<rect x="305.90" y="649.90" width="14.50" height="14.50" fill="#18658c"/>
<rect x="319.40" y="649.90" width="14.50" height="14.50" fill="#267489"/>
<rect x="332.90" y="649.90" width="14.50" height="14.50" fill="#328488"/>
<rect x="346.40" y="649.90" width="14.50" height="14.50" fill="#358888"/>
<rect x="359.90" y="649.90" width="14.50" height="14.50" fill="#2f8088"/>
<rect x="373.40" y="649.90" width="14.50" height="14.50" fill="#1e6c8b"/>
<rect x="386.90" y="649.90" width="14.50" height="14.50" fill="#0f4799"/>
<rect x="400.40" y="649.90" width="14.50" height="14.50" fill="#2a2090"/>
<rect x="413.90" y="649.90" width="14.50" height="14.50" fill="#2a1e86"/>
<rect x="427.40" y="649.90" width="14.50" height="14.50" fill="#291b7b"/>
<rect x="440.90" y="649.90" width="13.50" height="14.50" fill="#29186b"/>
<rect x="116.90" y="663.40" width="14.50" height="14.50" fill="#419d85"/>
<rect x="130.40" y="663.40" width="14.50" height="14.50" fill="#3b9286"/>
<rect x="143.90" y="663.40" width="14.50" height="14.50" fill="#79c968"/>
<rect x="157.40" y="663.40" width="14.50" height="14.50" fill="#16638d"/>
<rect x="170.90" y="663.40" width="14.50" height="14.50" fill="#22708a"/>
<rect x="184.40" y="663.40" width="14.50" height="14.50" fill="#267489"/>
<rect x="197.90" y="663.40" width="14.50" height="14.50" fill="#2c7c89"/>
<rect x="211.40" y="663.40" width="14.50" height="14.50" fill="#2e7e88"/>
<rect x="224.90" y="663.40" width="14.50" height="14.50" fill="#47a581"/>
<rect x="238.40" y="663.40" width="14.50" height="14.50" fill="#358888"/>
<rect x="251.90" y="663.40" width="14.50" height="14.50" fill="#378c87"/>
<rect x="265.40" y="663.40" width="14.50" height="14.50" fill="#3b9286"/>
<rect x="278.90" y="663.40" width="14.50" height="14.50" fill="#419d85"/>
<rect x="292.40" y="663.40" width="14.50" height="14.50" fill="#378c87"/>
<rect x="305.90" y="663.40" width="14.50" height="14.50" fill="#2f8088"/>
<rect x="319.40" y="663.40" width="14.50" height="14.50" fill="#358888"/>
<rect x="332.90" y="663.40" width="14.50" height="14.50" fill="#2e7e88"/>
<rect x="346.40" y="663.40" width="14.50" height="14.50" fill="#297889"/>
<rect x="359.90" y="663.40" width="14.50" height="14.50" fill="#24728a"/>
<rect x="373.40" y="663.40" width="14.50" height="14.50" fill="#104c97"/>
<rect x="386.90" y="663.40" width="14.50" height="14.50" fill="#222e9e"/>
<rect x="400.40" y="663.40" width="14.50" height="14.50" fill="#1c359c"/>
<rect x="413.90" y="663.40" width="14.50" height="14.50" fill="#2a2090"/>
<rect x="427.40" y="663.40" width="14.50" height="14.50" fill="#291b7b"/>
<rect x="440.90" y="663.40" width="13.50" height="14.50" fill="#291970"/>
<rect x="116.90" y="676.90" width="14.50" height="14.50" fill="#2f8088"/>
<rect x="130.40" y="676.90" width="14.50" height="14.50" fill="#57b679"/>
<rect x="143.90" y="676.90" width="14.50" height="14.50" fill="#dce478"/>
<rect x="157.40" y="676.90" width="14.50" height="14.50" fill="#3f9986"/>
<rect x="170.90" y="676.90" width="14.50" height="14.50" fill="#2e7e88"/>
<rect x="184.40" y="676.90" width="14.50" height="14.50" fill="#60bc74"/>
<rect x="197.90" y="676.90" width="14.50" height="14.50" fill="#16638d"/>
<rect x="211.40" y="676.90" width="14.50" height="14.50" fill="#3c9586"/>
<rect x="224.90" y="676.90" width="14.50" height="14.50" fill="#378c87"/>
<rect x="238.40" y="676.90" width="14.50" height="14.50" fill="#358888"/>
<rect x="251.90" y="676.90" width="14.50" height="14.50" fill="#419d85"/>
<rect x="265.40" y="676.90" width="14.50" height="14.50" fill="#2e7e88"/>
<rect x="278.90" y="676.90" width="14.50" height="14.50" fill="#277689"/>
<rect x="292.40" y="676.90" width="14.50" height="14.50" fill="#308288"/>
<rect x="305.90" y="676.90" width="14.50" height="14.50" fill="#24728a"/>
<rect x="319.40" y="676.90" width="14.50" height="14.50" fill="#358888"/>
<rect x="332.90" y="676.90" width="14.50" height="14.50" fill="#378c87"/>
<rect x="346.40" y="676.90" width="14.50" height="14.50" fill="#328488"/>
<rect x="359.90" y="676.90" width="14.50" height="14.50" fill="#16638d"/>
<rect x="373.40" y="676.90" width="14.50" height="14.50" fill="#115592"/>
<rect x="386.90" y="676.90" width="14.50" height="14.50" fill="#1a399c"/>
<rect x="400.40" y="676.90" width="14.50" height="14.50" fill="#2a2195"/>
<rect x="413.90" y="676.90" width="14.50" height="14.50" fill="#2a1e86"/>
<rect x="427.40" y="676.90" width="14.50" height="14.50" fill="#291b7b"/>
<rect x="440.90" y="676.90" width="13.50" height="14.50" fill="#29186b"/>
<rect x="116.90" y="690.40" width="14.50" height="14.50" fill="#358888"/>
<rect x="130.40" y="690.40" width="14.50" height="14.50" fill="#49a880"/>
<rect x="143.90" y="690.40" width="14.50" height="14.50" fill="#96d35e"/>
<rect x="157.40" y="690.40" width="14.50" height="14.50" fill="#51b27c"/>
<rect x="170.90" y="690.40" width="14.50" height="14.50" fill="#4baa80"/>
<rect x="184.40" y="690.40" width="14.50" height="14.50" fill="#4baa80"/>
<rect x="197.90" y="690.40" width="14.50" height="14.50" fill="#419d85"/>
<rect x="211.40" y="690.40" width="14.50" height="14.50" fill="#8cd061"/>
<rect x="224.90" y="690.40" width="14.50" height="14.50" fill="#16638d"/>
<rect x="238.40" y="690.40" width="14.50" height="14.50" fill="#419d85"/>
<rect x="251.90" y="690.40" width="14.50" height="14.50" fill="#3b9286"/>
<rect x="265.40" y="690.40" width="14.50" height="14.50" fill="#3b9286"/>
<rect x="278.90" y="690.40" width="14.50" height="14.50" fill="#358888"/>
<rect x="292.40" y="690.40" width="14.50" height="14.50" fill="#267489"/>
<rect x="305.90" y="690.40" width="14.50" height="14.50" fill="#419d85"/>
<rect x="319.40" y="690.40" width="14.50" height="14.50" fill="#2f8088"/>
<rect x="332.90" y="690.40" width="14.50" height="14.50" fill="#358888"/>
<rect x="346.40" y="690.40" width="14.50" height="14.50" fill="#267489"/>
<rect x="359.90" y="690.40" width="14.50" height="14.50" fill="#1c6a8c"/>
<rect x="373.40" y="690.40" width="14.50" height="14.50" fill="#1e6c8b"/>
<rect x="386.90" y="690.40" width="14.50" height="14.50" fill="#1a399c"/>
<rect x="400.40" y="690.40" width="14.50" height="14.50" fill="#2a23a0"/>
<rect x="413.90" y="690.40" width="14.50" height="14.50" fill="#2a229b"/>
<rect x="427.40" y="690.40" width="14.50" height="14.50" fill="#291b7b"/>
<rect x="440.90" y="690.40" width="13.50" height="14.50" fill="#29186b"/>
<rect x="116.90" y="703.90" width="14.50" height="14.50" fill="#49a880"/>
<rect x="130.40" y="703.90" width="14.50" height="14.50" fill="#3b9286"/>
<rect x="143.90" y="703.90" width="14.50" height="14.50" fill="#358888"/>
<rect x="157.40" y="703.90" width="14.50" height="14.50" fill="#419d85"/>
<rect x="170.90" y="703.90" width="14.50" height="14.50" fill="#267489"/>
<rect x="184.40" y="703.90" width="14.50" height="14.50" fill="#51b27c"/>
<rect x="197.90" y="703.90" width="14.50" height="14.50" fill="#0f4799"/>
<rect x="211.40" y="703.90" width="14.50" height="14.50" fill="#206e8a"/>
<rect x="224.90" y="703.90" width="14.50" height="14.50" fill="#2f8088"/>
<rect x="238.40" y="703.90" width="14.50" height="14.50" fill="#358888"/>
<rect x="251.90" y="703.90" width="14.50" height="14.50" fill="#358888"/>
<rect x="265.40" y="703.90" width="14.50" height="14.50" fill="#277689"/>
<rect x="278.90" y="703.90" width="14.50" height="14.50" fill="#3c9586"/>
<rect x="292.40" y="703.90" width="14.50" height="14.50" fill="#3b9286"/>
<rect x="305.90" y="703.90" width="14.50" height="14.50" fill="#44a183"/>
<rect x="319.40" y="703.90" width="14.50" height="14.50" fill="#378c87"/>
<rect x="332.90" y="703.90" width="14.50" height="14.50" fill="#2f8088"/>
<rect x="346.40" y="703.90" width="14.50" height="14.50" fill="#3b9286"/>
<rect x="359.90" y="703.90" width="14.50" height="14.50" fill="#16638d"/>
<rect x="373.40" y="703.90" width="14.50" height="14.50" fill="#115891"/>
<rect x="386.90" y="703.90" width="14.50" height="14.50" fill="#1a399c"/>
<rect x="400.40" y="703.90" width="14.50" height="14.50" fill="#2a2195"/>
<rect x="413.90" y="703.90" width="14.50" height="14.50" fill="#291b7b"/>
<rect x="427.40" y="703.90" width="14.50" height="14.50" fill="#2a1e86"/>
<rect x="440.90" y="703.90" width="13.50" height="14.50" fill="#29186b"/>
<rect x="116.90" y="717.40" width="14.50" height="14.50" fill="#49a880"/>
<rect x="130.40" y="717.40" width="14.50" height="14.50" fill="#49a880"/>
<rect x="143.90" y="717.40" width="14.50" height="14.50" fill="#51b27c"/>
<rect x="157.40" y="717.40" width="14.50" height="14.50" fill="#3b9286"/>
<rect x="170.90" y="717.40" width="14.50" height="14.50" fill="#378c87"/>
<rect x="184.40" y="717.40" width="14.50" height="14.50" fill="#3d9786"/>
<rect x="197.90" y="717.40" width="14.50" height="14.50" fill="#267489"/>
<rect x="211.40" y="717.40" width="14.50" height="14.50" fill="#267489"/>
<rect x="224.90" y="717.40" width="14.50" height="14.50" fill="#51b27c"/>
<rect x="238.40" y="717.40" width="14.50" height="14.50" fill="#3b9286"/>
<rect x="251.90" y="717.40" width="14.50" height="14.50" fill="#409b85"/>
<rect x="265.40" y="717.40" width="14.50" height="14.50" fill="#3b9286"/>
<rect x="278.90" y="717.40" width="14.50" height="14.50" fill="#2f8088"/>
<rect x="292.40" y="717.40" width="14.50" height="14.50" fill="#378c87"/>
<rect x="305.90" y="717.40" width="14.50" height="14.50" fill="#378c87"/>
<rect x="319.40" y="717.40" width="14.50" height="14.50" fill="#2f8088"/>
<rect x="332.90" y="717.40" width="14.50" height="14.50" fill="#378c87"/>
<rect x="346.40" y="717.40" width="14.50" height="14.50" fill="#378c87"/>
<rect x="359.90" y="717.40" width="14.50" height="14.50" fill="#2f8088"/>
<rect x="373.40" y="717.40" width="14.50" height="14.50" fill="#115891"/>
<rect x="386.90" y="717.40" width="14.50" height="14.50" fill="#1a399c"/>
<rect x="400.40" y="717.40" width="14.50" height="14.50" fill="#2a2090"/>
<rect x="413.90" y="717.40" width="14.50" height="14.50" fill="#2a1e86"/>
<rect x="427.40" y="717.40" width="14.50" height="14.50" fill="#291b7b"/>
<rect x="440.90" y="717.40" width="13.50" height="14.50" fill="#29186b"/>
<rect x="116.90" y="730.90" width="14.50" height="14.50" fill="#419d85"/>
<rect x="130.40" y="730.90" width="14.50" height="14.50" fill="#3f9986"/>
<rect x="143.90" y="730.90" width="14.50" height="14.50" fill="#63be72"/>
<rect x="157.40" y="730.90" width="14.50" height="14.50" fill="#fdee99"/>
<rect x="170.90" y="730.90" width="14.50" height="14.50" fill="#419d85"/>
<rect x="184.40" y="730.90" width="14.50" height="14.50" fill="#125d8f"/>
<rect x="197.90" y="730.90" width="14.50" height="14.50" fill="#125f8e"/>
<rect x="211.40" y="730.90" width="14.50" height="14.50" fill="#0f4998"/>
<rect x="224.90" y="730.90" width="14.50" height="14.50" fill="#3f9986"/>
<rect x="238.40" y="730.90" width="14.50" height="14.50" fill="#358888"/>
<rect x="251.90" y="730.90" width="14.50" height="14.50" fill="#3c9586"/>
<rect x="265.40" y="730.90" width="14.50" height="14.50" fill="#3c9586"/>
<rect x="278.90" y="730.90" width="14.50" height="14.50" fill="#2c7c89"/>
<rect x="292.40" y="730.90" width="14.50" height="14.50" fill="#47a581"/>
<rect x="305.90" y="730.90" width="14.50" height="14.50" fill="#419d85"/>
<rect x="319.40" y="730.90" width="14.50" height="14.50" fill="#439f84"/>
<rect x="332.90" y="730.90" width="14.50" height="14.50" fill="#358888"/>
<rect x="346.40" y="730.90" width="14.50" height="14.50" fill="#2f8088"/>
<rect x="359.90" y="730.90" width="14.50" height="14.50" fill="#1e6c8b"/>
<rect x="373.40" y="730.90" width="14.50" height="14.50" fill="#16638d"/>
<rect x="386.90" y="730.90" width="14.50" height="14.50" fill="#12439a"/>
<rect x="400.40" y="730.90" width="14.50" height="14.50" fill="#27279f"/>
<rect x="413.90" y="730.90" width="14.50" height="14.50" fill="#2a2090"/>
<rect x="427.40" y="730.90" width="14.50" height="14.50" fill="#291b7b"/>
<rect x="440.90" y="730.90" width="13.50" height="14.50" fill="#29186b"/>
<rect x="116.90" y="744.40" width="14.50" height="14.50" fill="#409b85"/>
<rect x="130.40" y="744.40" width="14.50" height="14.50" fill="#47a581"/>
<rect x="143.90" y="744.40" width="14.50" height="14.50" fill="#51b27c"/>
<rect x="157.40" y="744.40" width="14.50" height="14.50" fill="#419d85"/>
<rect x="170.90" y="744.40" width="14.50" height="14.50" fill="#2f8088"/>
<rect x="184.40" y="744.40" width="14.50" height="14.50" fill="#51b27c"/>
<rect x="197.90" y="744.40" width="14.50" height="14.50" fill="#3d9786"/>
<rect x="211.40" y="744.40" width="14.50" height="14.50" fill="#3c9586"/>
<rect x="224.90" y="744.40" width="14.50" height="14.50" fill="#51b27c"/>
<rect x="238.40" y="744.40" width="14.50" height="14.50" fill="#419d85"/>
<rect x="251.90" y="744.40" width="14.50" height="14.50" fill="#47a581"/>
<rect x="265.40" y="744.40" width="14.50" height="14.50" fill="#409b85"/>
<rect x="278.90" y="744.40" width="14.50" height="14.50" fill="#49a880"/>
<rect x="292.40" y="744.40" width="14.50" height="14.50" fill="#2f8088"/>
<rect x="305.90" y="744.40" width="14.50" height="14.50" fill="#328488"/>
<rect x="319.40" y="744.40" width="14.50" height="14.50" fill="#358888"/>
<rect x="332.90" y="744.40" width="14.50" height="14.50" fill="#2f8088"/>
<rect x="346.40" y="744.40" width="14.50" height="14.50" fill="#297889"/>
<rect x="359.90" y="744.40" width="14.50" height="14.50" fill="#206e8a"/>
<rect x="373.40" y="744.40" width="14.50" height="14.50" fill="#18658c"/>
<rect x="386.90" y="744.40" width="14.50" height="14.50" fill="#1c359c"/>
<rect x="400.40" y="744.40" width="14.50" height="14.50" fill="#27279f"/>
<rect x="413.90" y="744.40" width="14.50" height="14.50" fill="#2a1e86"/>
<rect x="427.40" y="744.40" width="14.50" height="14.50" fill="#291c80"/>
<rect x="440.90" y="744.40" width="13.50" height="14.50" fill="#29186b"/>
<rect x="116.90" y="757.90" width="14.50" height="14.50" fill="#51b27c"/>
<rect x="130.40" y="757.90" width="14.50" height="14.50" fill="#6fc66b"/>
<rect x="143.90" y="757.90" width="14.50" height="14.50" fill="#6fc66b"/>
<rect x="157.40" y="757.90" width="14.50" height="14.50" fill="#3c9586"/>
<rect x="170.90" y="757.90" width="14.50" height="14.50" fill="#6fc66b"/>
<rect x="184.40" y="757.90" width="14.50" height="14.50" fill="#2f8088"/>
<rect x="197.90" y="757.90" width="14.50" height="14.50" fill="#358888"/>
<rect x="211.40" y="757.90" width="14.50" height="14.50" fill="#3a9087"/>
<rect x="224.90" y="757.90" width="14.50" height="14.50" fill="#297889"/>
<rect x="238.40" y="757.90" width="14.50" height="14.50" fill="#358888"/>
<rect x="251.90" y="757.90" width="14.50" height="14.50" fill="#358888"/>
<rect x="265.40" y="757.90" width="14.50" height="14.50" fill="#419d85"/>
<rect x="278.90" y="757.90" width="14.50" height="14.50" fill="#409b85"/>
<rect x="292.40" y="757.90" width="14.50" height="14.50" fill="#297889"/>
<rect x="305.90" y="757.90" width="14.50" height="14.50" fill="#3c9586"/>
<rect x="319.40" y="757.90" width="14.50" height="14.50" fill="#44a183"/>
<rect x="332.90" y="757.90" width="14.50" height="14.50" fill="#358888"/>
<rect x="346.40" y="757.90" width="14.50" height="14.50" fill="#297889"/>
<rect x="359.90" y="757.90" width="14.50" height="14.50" fill="#277689"/>
<rect x="373.40" y="757.90" width="14.50" height="14.50" fill="#115592"/>
<rect x="386.90" y="757.90" width="14.50" height="14.50" fill="#0f4799"/>
<rect x="400.40" y="757.90" width="14.50" height="14.50" fill="#2a2195"/>
<rect x="413.90" y="757.90" width="14.50" height="14.50" fill="#2a1f8b"/>
<rect x="427.40" y="757.90" width="14.50" height="14.50" fill="#291c80"/>
<rect x="440.90" y="757.90" width="13.50" height="14.50" fill="#29186b"/>
<rect x="116.90" y="771.40" width="14.50" height="14.50" fill="#5dba75"/>
<rect x="130.40" y="771.40" width="14.50" height="14.50" fill="#44a183"/>
<rect x="143.90" y="771.40" width="14.50" height="14.50" fill="#79c968"/>
<rect x="157.40" y="771.40" width="14.50" height="14.50" fill="#2f8088"/>
<rect x="170.90" y="771.40" width="14.50" height="14.50" fill="#1e6c8b"/>
<rect x="184.40" y="771.40" width="14.50" height="14.50" fill="#125f8e"/>
<rect x="197.90" y="771.40" width="14.50" height="14.50" fill="#1e6c8b"/>
<rect x="211.40" y="771.40" width="14.50" height="14.50" fill="#3d9786"/>
<rect x="224.90" y="771.40" width="14.50" height="14.50" fill="#104c97"/>
<rect x="238.40" y="771.40" width="14.50" height="14.50" fill="#2e7e88"/>
<rect x="251.90" y="771.40" width="14.50" height="14.50" fill="#2e7e88"/>
<rect x="265.40" y="771.40" width="14.50" height="14.50" fill="#419d85"/>
<rect x="278.90" y="771.40" width="14.50" height="14.50" fill="#49a880"/>
<rect x="292.40" y="771.40" width="14.50" height="14.50" fill="#44a183"/>
<rect x="305.90" y="771.40" width="14.50" height="14.50" fill="#3a9087"/>
<rect x="319.40" y="771.40" width="14.50" height="14.50" fill="#378c87"/>
<rect x="332.90" y="771.40" width="14.50" height="14.50" fill="#2f8088"/>
<rect x="346.40" y="771.40" width="14.50" height="14.50" fill="#2f8088"/>
<rect x="359.90" y="771.40" width="14.50" height="14.50" fill="#16638d"/>
<rect x="373.40" y="771.40" width="14.50" height="14.50" fill="#115891"/>
<rect x="386.90" y="771.40" width="14.50" height="14.50" fill="#0f4799"/>
<rect x="400.40" y="771.40" width="14.50" height="14.50" fill="#2a2195"/>
<rect x="413.90" y="771.40" width="14.50" height="14.50" fill="#2a2195"/>
<rect x="427.40" y="771.40" width="14.50" height="14.50" fill="#291b7b"/>
<rect x="440.90" y="771.40" width="13.50" height="14.50" fill="#2a1f8b"/>
<rect x="116.90" y="784.90" width="14.50" height="14.50" fill="#44a183"/>
<rect x="130.40" y="784.90" width="14.50" height="14.50" fill="#44a183"/>
<rect x="143.90" y="784.90" width="14.50" height="14.50" fill="#49a880"/>
<rect x="157.40" y="784.90" width="14.50" height="14.50" fill="#63be72"/>
<rect x="170.90" y="784.90" width="14.50" height="14.50" fill="#0f4799"/>
<rect x="184.40" y="784.90" width="14.50" height="14.50" fill="#1a678c"/>
<rect x="197.90" y="784.90" width="14.50" height="14.50" fill="#51b27c"/>
<rect x="211.40" y="784.90" width="14.50" height="14.50" fill="#2f8088"/>
<rect x="224.90" y="784.90" width="14.50" height="14.50" fill="#419d85"/>
<rect x="238.40" y="784.90" width="14.50" height="14.50" fill="#3f9986"/>
<rect x="251.90" y="784.90" width="14.50" height="14.50" fill="#44a183"/>
<rect x="265.40" y="784.90" width="14.50" height="14.50" fill="#378c87"/>
<rect x="278.90" y="784.90" width="14.50" height="14.50" fill="#267489"/>
<rect x="292.40" y="784.90" width="14.50" height="14.50" fill="#419d85"/>
<rect x="305.90" y="784.90" width="14.50" height="14.50" fill="#439f84"/>
<rect x="319.40" y="784.90" width="14.50" height="14.50" fill="#439f84"/>
<rect x="332.90" y="784.90" width="14.50" height="14.50" fill="#378c87"/>
<rect x="346.40" y="784.90" width="14.50" height="14.50" fill="#378c87"/>
<rect x="359.90" y="784.90" width="14.50" height="14.50" fill="#1e6c8b"/>
<rect x="373.40" y="784.90" width="14.50" height="14.50" fill="#104c97"/>
<rect x="386.90" y="784.90" width="14.50" height="14.50" fill="#12439a"/>
<rect x="400.40" y="784.90" width="14.50" height="14.50" fill="#2a2195"/>
<rect x="413.90" y="784.90" width="14.50" height="14.50" fill="#2a1e86"/>
<rect x="427.40" y="784.90" width="14.50" height="14.50" fill="#291b7b"/>
<rect x="440.90" y="784.90" width="13.50" height="14.50" fill="#29186b"/>
<rect x="116.90" y="798.40" width="14.50" height="14.50" fill="#51b27c"/>
<rect x="130.40" y="798.40" width="14.50" height="14.50" fill="#63be72"/>
<rect x="143.90" y="798.40" width="14.50" height="14.50" fill="#3c9586"/>
<rect x="157.40" y="798.40" width="14.50" height="14.50" fill="#6fc66b"/>
<rect x="170.90" y="798.40" width="14.50" height="14.50" fill="#5dba75"/>
<rect x="184.40" y="798.40" width="14.50" height="14.50" fill="#2c7c89"/>
<rect x="197.90" y="798.40" width="14.50" height="14.50" fill="#3c9586"/>
<rect x="211.40" y="798.40" width="14.50" height="14.50" fill="#409b85"/>
<rect x="224.90" y="798.40" width="14.50" height="14.50" fill="#419d85"/>
<rect x="238.40" y="798.40" width="14.50" height="14.50" fill="#4baa80"/>
<rect x="251.90" y="798.40" width="14.50" height="14.50" fill="#308288"/>
<rect x="265.40" y="798.40" width="14.50" height="14.50" fill="#47a581"/>
<rect x="278.90" y="798.40" width="14.50" height="14.50" fill="#439f84"/>
<rect x="292.40" y="798.40" width="14.50" height="14.50" fill="#3c9586"/>
<rect x="305.90" y="798.40" width="14.50" height="14.50" fill="#419d85"/>
<rect x="319.40" y="798.40" width="14.50" height="14.50" fill="#439f84"/>
<rect x="332.90" y="798.40" width="14.50" height="14.50" fill="#358888"/>
<rect x="346.40" y="798.40" width="14.50" height="14.50" fill="#2f8088"/>
<rect x="359.90" y="798.40" width="14.50" height="14.50" fill="#277689"/>
<rect x="373.40" y="798.40" width="14.50" height="14.50" fill="#125f8e"/>
<rect x="386.90" y="798.40" width="14.50" height="14.50" fill="#12439a"/>
<rect x="400.40" y="798.40" width="14.50" height="14.50" fill="#2a23a0"/>
<rect x="413.90" y="798.40" width="14.50" height="14.50" fill="#2a2090"/>
<rect x="427.40" y="798.40" width="14.50" height="14.50" fill="#291b7b"/>
<rect x="440.90" y="798.40" width="13.50" height="14.50" fill="#291970"/>
<rect x="116.90" y="811.90" width="14.50" height="14.50" fill="#44a183"/>
<rect x="130.40" y="811.90" width="14.50" height="14.50" fill="#6cc46d"/>
<rect x="143.90" y="811.90" width="14.50" height="14.50" fill="#3a9087"/>
<rect x="157.40" y="811.90" width="14.50" height="14.50" fill="#96d35e"/>
<rect x="170.90" y="811.90" width="14.50" height="14.50" fill="#115592"/>
<rect x="184.40" y="811.90" width="14.50" height="14.50" fill="#125d8f"/>
<rect x="197.90" y="811.90" width="14.50" height="14.50" fill="#173c9b"/>
<rect x="211.40" y="811.90" width="14.50" height="14.50" fill="#328488"/>
<rect x="224.90" y="811.90" width="14.50" height="14.50" fill="#4baa80"/>
<rect x="238.40" y="811.90" width="14.50" height="14.50" fill="#4cac7f"/>
<rect x="251.90" y="811.90" width="14.50" height="14.50" fill="#2c7c89"/>
<rect x="265.40" y="811.90" width="14.50" height="14.50" fill="#419d85"/>
<rect x="278.90" y="811.90" width="14.50" height="14.50" fill="#378c87"/>
<rect x="292.40" y="811.90" width="14.50" height="14.50" fill="#3c9586"/>
<rect x="305.90" y="811.90" width="14.50" height="14.50" fill="#4baa80"/>
<rect x="319.40" y="811.90" width="14.50" height="14.50" fill="#3a9087"/>
<rect x="332.90" y="811.90" width="14.50" height="14.50" fill="#3d9786"/>
<rect x="346.40" y="811.90" width="14.50" height="14.50" fill="#358888"/>
<rect x="359.90" y="811.90" width="14.50" height="14.50" fill="#277689"/>
<rect x="373.40" y="811.90" width="14.50" height="14.50" fill="#105394"/>
<rect x="386.90" y="811.90" width="14.50" height="14.50" fill="#1c359c"/>
<rect x="400.40" y="811.90" width="14.50" height="14.50" fill="#2a23a0"/>
<rect x="413.90" y="811.90" width="14.50" height="14.50" fill="#2a2090"/>
<rect x="427.40" y="811.90" width="14.50" height="14.50" fill="#291b7b"/>
<rect x="440.90" y="811.90" width="13.50" height="14.50" fill="#291970"/>
<rect x="116.90" y="825.40" width="14.50" height="14.50" fill="#4eae7e"/>
<rect x="130.40" y="825.40" width="14.50" height="14.50" fill="#8cd061"/>
<rect x="143.90" y="825.40" width="14.50" height="14.50" fill="#6fc66b"/>
<rect x="157.40" y="825.40" width="14.50" height="14.50" fill="#60bc74"/>
<rect x="170.90" y="825.40" width="14.50" height="14.50" fill="#54b47a"/>
<rect x="184.40" y="825.40" width="14.50" height="14.50" fill="#378c87"/>
<rect x="197.90" y="825.40" width="14.50" height="14.50" fill="#378c87"/>
<rect x="211.40" y="825.40" width="14.50" height="14.50" fill="#3c9586"/>
<rect x="224.90" y="825.40" width="14.50" height="14.50" fill="#419d85"/>
<rect x="238.40" y="825.40" width="14.50" height="14.50" fill="#3c9586"/>
<rect x="251.90" y="825.40" width="14.50" height="14.50" fill="#5ab877"/>
<rect x="265.40" y="825.40" width="14.50" height="14.50" fill="#51b27c"/>
<rect x="278.90" y="825.40" width="14.50" height="14.50" fill="#4baa80"/>
<rect x="292.40" y="825.40" width="14.50" height="14.50" fill="#44a183"/>
<rect x="305.90" y="825.40" width="14.50" height="14.50" fill="#409b85"/>
<rect x="319.40" y="825.40" width="14.50" height="14.50" fill="#3c9586"/>
<rect x="332.90" y="825.40" width="14.50" height="14.50" fill="#3c9586"/>
<rect x="346.40" y="825.40" width="14.50" height="14.50" fill="#368a88"/>
<rect x="359.90" y="825.40" width="14.50" height="14.50" fill="#277689"/>
<rect x="373.40" y="825.40" width="14.50" height="14.50" fill="#16638d"/>
<rect x="386.90" y="825.40" width="14.50" height="14.50" fill="#12439a"/>
<rect x="400.40" y="825.40" width="14.50" height="14.50" fill="#2a23a0"/>
<rect x="413.90" y="825.40" width="14.50" height="14.50" fill="#2a1e86"/>
<rect x="427.40" y="825.40" width="14.50" height="14.50" fill="#291b7b"/>
<rect x="440.90" y="825.40" width="13.50" height="14.50" fill="#29186b"/>
<rect x="116.90" y="838.90" width="14.50" height="14.50" fill="#a0d65b"/>
<rect x="130.40" y="838.90" width="14.50" height="14.50" fill="#5dba75"/>
<rect x="143.90" y="838.90" width="14.50" height="14.50" fill="#74c869"/>
<rect x="157.40" y="838.90" width="14.50" height="14.50" fill="#2c7c89"/>
<rect x="170.90" y="838.90" width="14.50" height="14.50" fill="#a0d65b"/>
<rect x="184.40" y="838.90" width="14.50" height="14.50" fill="#267489"/>
<rect x="197.90" y="838.90" width="14.50" height="14.50" fill="#419d85"/>
<rect x="211.40" y="838.90" width="14.50" height="14.50" fill="#2c7c89"/>
<rect x="224.90" y="838.90" width="14.50" height="14.50" fill="#439f84"/>
<rect x="238.40" y="838.90" width="14.50" height="14.50" fill="#409b85"/>
<rect x="251.90" y="838.90" width="14.50" height="14.50" fill="#44a183"/>
<rect x="265.40" y="838.90" width="14.50" height="14.50" fill="#3d9786"/>
<rect x="278.90" y="838.90" width="14.50" height="14.50" fill="#4baa80"/>
<rect x="292.40" y="838.90" width="14.50" height="14.50" fill="#3d9786"/>
<rect x="305.90" y="838.90" width="14.50" height="14.50" fill="#2f8088"/>
<rect x="319.40" y="838.90" width="14.50" height="14.50" fill="#3b9286"/>
<rect x="332.90" y="838.90" width="14.50" height="14.50" fill="#409b85"/>
<rect x="346.40" y="838.90" width="14.50" height="14.50" fill="#378c87"/>
<rect x="359.90" y="838.90" width="14.50" height="14.50" fill="#267489"/>
<rect x="373.40" y="838.90" width="14.50" height="14.50" fill="#22708a"/>
<rect x="386.90" y="838.90" width="14.50" height="14.50" fill="#12439a"/>
<rect x="400.40" y="838.90" width="14.50" height="14.50" fill="#2a2195"/>
<rect x="413.90" y="838.90" width="14.50" height="14.50" fill="#2a1e86"/>
<rect x="427.40" y="838.90" width="14.50" height="14.50" fill="#291b7b"/>
<rect x="440.90" y="838.90" width="13.50" height="14.50" fill="#29186b"/>
<rect x="116.90" y="852.40" width="14.50" height="13.50" fill="#4baa80"/>
<rect x="130.40" y="852.40" width="14.50" height="13.50" fill="#8cd061"/>
<rect x="143.90" y="852.40" width="14.50" height="13.50" fill="#6fc66b"/>
<rect x="157.40" y="852.40" width="14.50" height="13.50" fill="#63be72"/>
<rect x="170.90" y="852.40" width="14.50" height="13.50" fill="#60bc74"/>
<rect x="184.40" y="852.40" width="14.50" height="13.50" fill="#3b9286"/>
<rect x="197.90" y="852.40" width="14.50" height="13.50" fill="#173c9b"/>
<rect x="211.40" y="852.40" width="14.50" height="13.50" fill="#0f4998"/>
<rect x="224.90" y="852.40" width="14.50" height="13.50" fill="#51b27c"/>
<rect x="238.40" y="852.40" width="14.50" height="13.50" fill="#105195"/>
<rect x="251.90" y="852.40" width="14.50" height="13.50" fill="#1a678c"/>
<rect x="265.40" y="852.40" width="14.50" height="13.50" fill="#3c9586"/>
<rect x="278.90" y="852.40" width="14.50" height="13.50" fill="#51b27c"/>
<rect x="292.40" y="852.40" width="14.50" height="13.50" fill="#378c87"/>
<rect x="305.90" y="852.40" width="14.50" height="13.50" fill="#378c87"/>
<rect x="319.40" y="852.40" width="14.50" height="13.50" fill="#4baa80"/>
<rect x="332.90" y="852.40" width="14.50" height="13.50" fill="#308288"/>
<rect x="346.40" y="852.40" width="14.50" height="13.50" fill="#378c87"/>
<rect x="359.90" y="852.40" width="14.50" height="13.50" fill="#277689"/>
<rect x="373.40" y="852.40" width="14.50" height="13.50" fill="#16638d"/>
<rect x="386.90" y="852.40" width="14.50" height="13.50" fill="#222e9e"/>
<rect x="400.40" y="852.40" width="14.50" height="13.50" fill="#1a399c"/>
<rect x="413.90" y="852.40" width="14.50" height="13.50" fill="#2a1e86"/>
<rect x="427.40" y="852.40" width="14.50" height="13.50" fill="#291b7b"/>
<rect x="440.90" y="852.40" width="13.50" height="13.50" fill="#29186b"/>
</g>
<path d="M100.20 511.70V882.60H471.50" fill="none" stroke="#000" stroke-width="2.40" stroke-linecap="butt" stroke-linejoin="miter"/>
<line x1="93.10" y1="859.15" x2="99.20" y2="859.15" stroke="#333" stroke-width="2.70"/>
<text transform="translate(87.70 869.55) scale(1 1.045)" text-anchor="end" font-size="27.60">0.00</text>
<line x1="93.10" y1="778.15" x2="99.20" y2="778.15" stroke="#333" stroke-width="2.70"/>
<text transform="translate(87.70 788.55) scale(1 1.045)" text-anchor="end" font-size="27.60">0.25</text>
<line x1="93.10" y1="697.15" x2="99.20" y2="697.15" stroke="#333" stroke-width="2.70"/>
<text transform="translate(87.70 707.55) scale(1 1.045)" text-anchor="end" font-size="27.60">0.50</text>
<line x1="93.10" y1="616.15" x2="99.20" y2="616.15" stroke="#333" stroke-width="2.70"/>
<text transform="translate(87.70 626.55) scale(1 1.045)" text-anchor="end" font-size="27.60">0.75</text>
<line x1="93.10" y1="535.15" x2="99.20" y2="535.15" stroke="#333" stroke-width="2.70"/>
<text transform="translate(87.70 545.55) scale(1 1.045)" text-anchor="end" font-size="27.60">1.00</text>
<line x1="123.65" y1="883.60" x2="123.65" y2="889.70" stroke="#333" stroke-width="2.70"/>
<text transform="translate(144.25 895.20) rotate(-90) scale(1 1.045)" text-anchor="end" font-size="27.60">0.00</text>
<line x1="204.65" y1="883.60" x2="204.65" y2="889.70" stroke="#333" stroke-width="2.70"/>
<text transform="translate(225.25 895.20) rotate(-90) scale(1 1.045)" text-anchor="end" font-size="27.60">0.25</text>
<line x1="285.65" y1="883.60" x2="285.65" y2="889.70" stroke="#333" stroke-width="2.70"/>
<text transform="translate(306.25 895.20) rotate(-90) scale(1 1.045)" text-anchor="end" font-size="27.60">0.50</text>
<line x1="366.65" y1="883.60" x2="366.65" y2="889.70" stroke="#333" stroke-width="2.70"/>
<text transform="translate(387.25 895.20) rotate(-90) scale(1 1.045)" text-anchor="end" font-size="27.60">0.75</text>
<line x1="447.65" y1="883.60" x2="447.65" y2="889.70" stroke="#333" stroke-width="2.70"/>
<text transform="translate(468.25 895.20) rotate(-90) scale(1 1.045)" text-anchor="end" font-size="27.60">1.00</text>
<text transform="translate(21.30 697.00) rotate(-90) scale(1 1.020)" text-anchor="middle" font-size="27.60">Blockade</text>
<text transform="translate(285.80 975.50) scale(1 1.020)" text-anchor="middle" font-size="27.60">Suppression</text>
<text x="8.80" y="517.70" font-size="27.60" font-weight="bold" stroke="none">c</text>
<defs><linearGradient id="gc" x1="0" y1="1" x2="0" y2="0">
<stop offset="0.0000" stop-color="#29186b"/>
<stop offset="0.0909" stop-color="#2a23a0"/>
<stop offset="0.1818" stop-color="#0f4799"/>
<stop offset="0.2727" stop-color="#125f8e"/>
<stop offset="0.3636" stop-color="#267489"/>
<stop offset="0.4545" stop-color="#358888"/>
<stop offset="0.5455" stop-color="#419d85"/>
<stop offset="0.6364" stop-color="#51b27c"/>
<stop offset="0.7273" stop-color="#6fc66b"/>
<stop offset="0.8182" stop-color="#a0d65b"/>
<stop offset="0.9091" stop-color="#d4e170"/>
<stop offset="1.0000" stop-color="#fdee99"/>
</linearGradient></defs>
<rect x="523.90" y="632.10" width="40.30" height="199.70" fill="url(#gc)"/>
<path d="M523.90 663.30h8.06M556.14 663.30h8.06" stroke="#fff" stroke-width="1.1" fill="none"/>
<path d="M523.90 745.80h8.06M556.14 745.80h8.06" stroke="#fff" stroke-width="1.1" fill="none"/>
<path d="M523.90 828.40h8.06M556.14 828.40h8.06" stroke="#fff" stroke-width="1.1" fill="none"/>
<text transform="translate(577.80 671.20) scale(1 0.990)" font-size="23.00">10000</text>
<text transform="translate(577.80 753.70) scale(1 0.990)" font-size="23.00">1000</text>
<text transform="translate(577.80 836.30) scale(1 0.990)" font-size="23.00">100</text>
<text transform="translate(523.70 586.20) scale(1 1.020)" font-size="27.60">T<tspan dx="-2.4">ransition</tspan></text>
<text transform="translate(523.70 616.20) scale(1 1.020)" font-size="27.60">Time</text>
<g>
<rect x="946.20" y="528.40" width="14.50" height="14.50" fill="#f6f613"/>
<rect x="959.70" y="528.40" width="14.50" height="14.50" fill="#f6f613"/>
<rect x="973.20" y="528.40" width="14.50" height="14.50" fill="#f6f613"/>
<rect x="986.70" y="528.40" width="14.50" height="14.50" fill="#f6f613"/>
<rect x="1000.20" y="528.40" width="14.50" height="14.50" fill="#f6f613"/>
<rect x="1013.70" y="528.40" width="14.50" height="14.50" fill="#f6f613"/>
<rect x="1027.20" y="528.40" width="14.50" height="14.50" fill="#f6f613"/>
<rect x="1040.70" y="528.40" width="14.50" height="14.50" fill="#f6f613"/>
<rect x="1054.20" y="528.40" width="14.50" height="14.50" fill="#f6f613"/>
<rect x="1067.70" y="528.40" width="14.50" height="14.50" fill="#f6f613"/>
<rect x="1081.20" y="528.40" width="14.50" height="14.50" fill="#f6f613"/>
<rect x="1094.70" y="528.40" width="14.50" height="14.50" fill="#f6f613"/>
<rect x="1108.20" y="528.40" width="14.50" height="14.50" fill="#f6f613"/>
<rect x="1121.70" y="528.40" width="14.50" height="14.50" fill="#f6f613"/>
<rect x="1135.20" y="528.40" width="14.50" height="14.50" fill="#f6f613"/>
<rect x="1148.70" y="528.40" width="14.50" height="14.50" fill="#f6f613"/>
<rect x="1162.20" y="528.40" width="14.50" height="14.50" fill="#f6f613"/>
<rect x="1175.70" y="528.40" width="14.50" height="14.50" fill="#f6f613"/>
<rect x="1189.20" y="528.40" width="14.50" height="14.50" fill="#f6f613"/>
<rect x="1202.70" y="528.40" width="14.50" height="14.50" fill="#f6f613"/>
<rect x="1216.20" y="528.40" width="14.50" height="14.50" fill="#f6f613"/>
<rect x="1229.70" y="528.40" width="14.50" height="14.50" fill="#f6f613"/>
<rect x="1243.20" y="528.40" width="14.50" height="14.50" fill="#f6f613"/>
<rect x="1256.70" y="528.40" width="14.50" height="14.50" fill="#f6f613"/>
<rect x="1270.20" y="528.40" width="13.50" height="14.50" fill="#f6f613"/>
<rect x="946.20" y="541.90" width="14.50" height="14.50" fill="#f2ca26"/>
<rect x="959.70" y="541.90" width="14.50" height="14.50" fill="#f5b41e"/>
<rect x="973.20" y="541.90" width="14.50" height="14.50" fill="#f6ac1c"/>
<rect x="986.70" y="541.90" width="14.50" height="14.50" fill="#f89a17"/>
<rect x="1000.20" y="541.90" width="14.50" height="14.50" fill="#fa8c14"/>
<rect x="1013.70" y="541.90" width="14.50" height="14.50" fill="#f2c724"/>
<rect x="1027.20" y="541.90" width="14.50" height="14.50" fill="#fb8712"/>
<rect x="1040.70" y="541.90" width="14.50" height="14.50" fill="#f4bf22"/>
<rect x="1054.20" y="541.90" width="14.50" height="14.50" fill="#fb740f"/>
<rect x="1067.70" y="541.90" width="14.50" height="14.50" fill="#f89a17"/>
<rect x="1081.20" y="541.90" width="14.50" height="14.50" fill="#f2ce27"/>
<rect x="1094.70" y="541.90" width="14.50" height="14.50" fill="#f2ce27"/>
<rect x="1108.20" y="541.90" width="14.50" height="14.50" fill="#f4bf22"/>
<rect x="1121.70" y="541.90" width="14.50" height="14.50" fill="#f4b720"/>
<rect x="1135.20" y="541.90" width="14.50" height="14.50" fill="#f4bf22"/>
<rect x="1148.70" y="541.90" width="14.50" height="14.50" fill="#f3c323"/>
<rect x="1162.20" y="541.90" width="14.50" height="14.50" fill="#f2d626"/>
<rect x="1175.70" y="541.90" width="14.50" height="14.50" fill="#f2d626"/>
<rect x="1189.20" y="541.90" width="14.50" height="14.50" fill="#f2d924"/>
<rect x="1202.70" y="541.90" width="14.50" height="14.50" fill="#f2dd22"/>
<rect x="1216.20" y="541.90" width="14.50" height="14.50" fill="#f3e020"/>
<rect x="1229.70" y="541.90" width="14.50" height="14.50" fill="#f4e41e"/>
<rect x="1243.20" y="541.90" width="14.50" height="14.50" fill="#f4e81b"/>
<rect x="1256.70" y="541.90" width="14.50" height="14.50" fill="#f4eb19"/>
<rect x="1270.20" y="541.90" width="13.50" height="14.50" fill="#f6f613"/>
<rect x="946.20" y="555.40" width="14.50" height="14.50" fill="#fa640c"/>
<rect x="959.70" y="555.40" width="14.50" height="14.50" fill="#f2c724"/>
<rect x="973.20" y="555.40" width="14.50" height="14.50" fill="#f7a31a"/>
<rect x="986.70" y="555.40" width="14.50" height="14.50" fill="#f64609"/>
<rect x="1000.20" y="555.40" width="14.50" height="14.50" fill="#f89a17"/>
<rect x="1013.70" y="555.40" width="14.50" height="14.50" fill="#f7a71b"/>
<rect x="1027.20" y="555.40" width="14.50" height="14.50" fill="#e42408"/>
<rect x="1040.70" y="555.40" width="14.50" height="14.50" fill="#f44209"/>
<rect x="1054.20" y="555.40" width="14.50" height="14.50" fill="#f6ac1c"/>
<rect x="1067.70" y="555.40" width="14.50" height="14.50" fill="#f89a17"/>
<rect x="1081.20" y="555.40" width="14.50" height="14.50" fill="#fb8712"/>
<rect x="1094.70" y="555.40" width="14.50" height="14.50" fill="#fb8311"/>
<rect x="1108.20" y="555.40" width="14.50" height="14.50" fill="#f2c724"/>
<rect x="1121.70" y="555.40" width="14.50" height="14.50" fill="#f3c323"/>
<rect x="1135.20" y="555.40" width="14.50" height="14.50" fill="#f1d228"/>
<rect x="1148.70" y="555.40" width="14.50" height="14.50" fill="#f3c323"/>
<rect x="1162.20" y="555.40" width="14.50" height="14.50" fill="#f2d924"/>
<rect x="1175.70" y="555.40" width="14.50" height="14.50" fill="#f2d626"/>
<rect x="1189.20" y="555.40" width="14.50" height="14.50" fill="#f4e41e"/>
<rect x="1202.70" y="555.40" width="14.50" height="14.50" fill="#f3e020"/>
<rect x="1216.20" y="555.40" width="14.50" height="14.50" fill="#f3e020"/>
<rect x="1229.70" y="555.40" width="14.50" height="14.50" fill="#f4e81b"/>
<rect x="1243.20" y="555.40" width="14.50" height="14.50" fill="#f4eb19"/>
<rect x="1256.70" y="555.40" width="14.50" height="14.50" fill="#f4eb19"/>
<rect x="1270.20" y="555.40" width="13.50" height="14.50" fill="#f6f613"/>
<rect x="946.20" y="568.90" width="14.50" height="14.50" fill="#f44209"/>
<rect x="959.70" y="568.90" width="14.50" height="14.50" fill="#f9540a"/>
<rect x="973.20" y="568.90" width="14.50" height="14.50" fill="#d71d07"/>
<rect x="986.70" y="568.90" width="14.50" height="14.50" fill="#fc7e10"/>
<rect x="1000.20" y="568.90" width="14.50" height="14.50" fill="#f95a0b"/>
<rect x="1013.70" y="568.90" width="14.50" height="14.50" fill="#f44209"/>
<rect x="1027.20" y="568.90" width="14.50" height="14.50" fill="#f03b09"/>
<rect x="1040.70" y="568.90" width="14.50" height="14.50" fill="#f95a0b"/>
<rect x="1054.20" y="568.90" width="14.50" height="14.50" fill="#f84a09"/>
<rect x="1067.70" y="568.90" width="14.50" height="14.50" fill="#fa8c14"/>
<rect x="1081.20" y="568.90" width="14.50" height="14.50" fill="#fc790f"/>
<rect x="1094.70" y="568.90" width="14.50" height="14.50" fill="#fa8c14"/>
<rect x="1108.20" y="568.90" width="14.50" height="14.50" fill="#f6b01d"/>
<rect x="1121.70" y="568.90" width="14.50" height="14.50" fill="#f7a71b"/>
<rect x="1135.20" y="568.90" width="14.50" height="14.50" fill="#f4bb21"/>
<rect x="1148.70" y="568.90" width="14.50" height="14.50" fill="#f2ca26"/>
<rect x="1162.20" y="568.90" width="14.50" height="14.50" fill="#f5b41e"/>
<rect x="1175.70" y="568.90" width="14.50" height="14.50" fill="#f2d924"/>
<rect x="1189.20" y="568.90" width="14.50" height="14.50" fill="#f1d228"/>
<rect x="1202.70" y="568.90" width="14.50" height="14.50" fill="#f2d626"/>
<rect x="1216.20" y="568.90" width="14.50" height="14.50" fill="#f3e020"/>
<rect x="1229.70" y="568.90" width="14.50" height="14.50" fill="#f4e41e"/>
<rect x="1243.20" y="568.90" width="14.50" height="14.50" fill="#f4e41e"/>
<rect x="1256.70" y="568.90" width="14.50" height="14.50" fill="#f5ef17"/>
<rect x="1270.20" y="568.90" width="13.50" height="14.50" fill="#f6f613"/>
<rect x="946.20" y="582.40" width="14.50" height="14.50" fill="#f44209"/>
<rect x="959.70" y="582.40" width="14.50" height="14.50" fill="#ea2f08"/>
<rect x="973.20" y="582.40" width="14.50" height="14.50" fill="#c11106"/>
<rect x="986.70" y="582.40" width="14.50" height="14.50" fill="#520a0a"/>
<rect x="1000.20" y="582.40" width="14.50" height="14.50" fill="#fa8c14"/>
<rect x="1013.70" y="582.40" width="14.50" height="14.50" fill="#f95a0b"/>
<rect x="1027.20" y="582.40" width="14.50" height="14.50" fill="#fa640c"/>
<rect x="1040.70" y="582.40" width="14.50" height="14.50" fill="#f44209"/>
<rect x="1054.20" y="582.40" width="14.50" height="14.50" fill="#b80c06"/>
<rect x="1067.70" y="582.40" width="14.50" height="14.50" fill="#f84a09"/>
<rect x="1081.20" y="582.40" width="14.50" height="14.50" fill="#fc790f"/>
<rect x="1094.70" y="582.40" width="14.50" height="14.50" fill="#fb8712"/>
<rect x="1108.20" y="582.40" width="14.50" height="14.50" fill="#f6ac1c"/>
<rect x="1121.70" y="582.40" width="14.50" height="14.50" fill="#f5b41e"/>
<rect x="1135.20" y="582.40" width="14.50" height="14.50" fill="#f4b720"/>
<rect x="1148.70" y="582.40" width="14.50" height="14.50" fill="#f4bf22"/>
<rect x="1162.20" y="582.40" width="14.50" height="14.50" fill="#f1d228"/>
<rect x="1175.70" y="582.40" width="14.50" height="14.50" fill="#f4bb21"/>
<rect x="1189.20" y="582.40" width="14.50" height="14.50" fill="#f1d228"/>
<rect x="1202.70" y="582.40" width="14.50" height="14.50" fill="#f2d626"/>
<rect x="1216.20" y="582.40" width="14.50" height="14.50" fill="#f2dd22"/>
<rect x="1229.70" y="582.40" width="14.50" height="14.50" fill="#f4e41e"/>
<rect x="1243.20" y="582.40" width="14.50" height="14.50" fill="#f4e81b"/>
<rect x="1256.70" y="582.40" width="14.50" height="14.50" fill="#f5ef17"/>
<rect x="1270.20" y="582.40" width="13.50" height="14.50" fill="#f6f613"/>
<rect x="946.20" y="595.90" width="14.50" height="14.50" fill="#c11106"/>
<rect x="959.70" y="595.90" width="14.50" height="14.50" fill="#fa690d"/>
<rect x="973.20" y="595.90" width="14.50" height="14.50" fill="#bc0e06"/>
<rect x="986.70" y="595.90" width="14.50" height="14.50" fill="#9b0503"/>
<rect x="1000.20" y="595.90" width="14.50" height="14.50" fill="#d21a07"/>
<rect x="1013.70" y="595.90" width="14.50" height="14.50" fill="#8e0202"/>
<rect x="1027.20" y="595.90" width="14.50" height="14.50" fill="#b00a05"/>
<rect x="1040.70" y="595.90" width="14.50" height="14.50" fill="#e42408"/>
<rect x="1054.20" y="595.90" width="14.50" height="14.50" fill="#f23f09"/>
<rect x="1067.70" y="595.90" width="14.50" height="14.50" fill="#f84f0a"/>
<rect x="1081.20" y="595.90" width="14.50" height="14.50" fill="#fa9015"/>
<rect x="1094.70" y="595.90" width="14.50" height="14.50" fill="#f99516"/>
<rect x="1108.20" y="595.90" width="14.50" height="14.50" fill="#f99516"/>
<rect x="1121.70" y="595.90" width="14.50" height="14.50" fill="#f7a31a"/>
<rect x="1135.20" y="595.90" width="14.50" height="14.50" fill="#f6b01d"/>
<rect x="1148.70" y="595.90" width="14.50" height="14.50" fill="#f6b01d"/>
<rect x="1162.20" y="595.90" width="14.50" height="14.50" fill="#f1d228"/>
<rect x="1175.70" y="595.90" width="14.50" height="14.50" fill="#f1d228"/>
<rect x="1189.20" y="595.90" width="14.50" height="14.50" fill="#f2d626"/>
<rect x="1202.70" y="595.90" width="14.50" height="14.50" fill="#f3e020"/>
<rect x="1216.20" y="595.90" width="14.50" height="14.50" fill="#f3e020"/>
<rect x="1229.70" y="595.90" width="14.50" height="14.50" fill="#f4e81b"/>
<rect x="1243.20" y="595.90" width="14.50" height="14.50" fill="#f4eb19"/>
<rect x="1256.70" y="595.90" width="14.50" height="14.50" fill="#f5ef17"/>
<rect x="1270.20" y="595.90" width="13.50" height="14.50" fill="#f6f613"/>
<rect x="946.20" y="609.40" width="14.50" height="14.50" fill="#c51307"/>
<rect x="959.70" y="609.40" width="14.50" height="14.50" fill="#b00a05"/>
<rect x="973.20" y="609.40" width="14.50" height="14.50" fill="#ab0905"/>
<rect x="986.70" y="609.40" width="14.50" height="14.50" fill="#8a0202"/>
<rect x="1000.20" y="609.40" width="14.50" height="14.50" fill="#d71d07"/>
<rect x="1013.70" y="609.40" width="14.50" height="14.50" fill="#7a0404"/>
<rect x="1027.20" y="609.40" width="14.50" height="14.50" fill="#f84f0a"/>
<rect x="1040.70" y="609.40" width="14.50" height="14.50" fill="#c51307"/>
<rect x="1054.20" y="609.40" width="14.50" height="14.50" fill="#f44209"/>
<rect x="1067.70" y="609.40" width="14.50" height="14.50" fill="#ec3308"/>
<rect x="1081.20" y="609.40" width="14.50" height="14.50" fill="#fb740f"/>
<rect x="1094.70" y="609.40" width="14.50" height="14.50" fill="#fb740f"/>
<rect x="1108.20" y="609.40" width="14.50" height="14.50" fill="#f6b01d"/>
<rect x="1121.70" y="609.40" width="14.50" height="14.50" fill="#f89e18"/>
<rect x="1135.20" y="609.40" width="14.50" height="14.50" fill="#f4bf22"/>
<rect x="1148.70" y="609.40" width="14.50" height="14.50" fill="#f5b41e"/>
<rect x="1162.20" y="609.40" width="14.50" height="14.50" fill="#f2ce27"/>
<rect x="1175.70" y="609.40" width="14.50" height="14.50" fill="#f2ca26"/>
<rect x="1189.20" y="609.40" width="14.50" height="14.50" fill="#f2d626"/>
<rect x="1202.70" y="609.40" width="14.50" height="14.50" fill="#f1d228"/>
<rect x="1216.20" y="609.40" width="14.50" height="14.50" fill="#f4e81b"/>
<rect x="1229.70" y="609.40" width="14.50" height="14.50" fill="#f4e41e"/>
<rect x="1243.20" y="609.40" width="14.50" height="14.50" fill="#f4eb19"/>
<rect x="1256.70" y="609.40" width="14.50" height="14.50" fill="#f5ef17"/>
<rect x="1270.20" y="609.40" width="13.50" height="14.50" fill="#f6f613"/>
<rect x="946.20" y="622.90" width="14.50" height="14.50" fill="#b00a05"/>
<rect x="959.70" y="622.90" width="14.50" height="14.50" fill="#a70804"/>
<rect x="973.20" y="622.90" width="14.50" height="14.50" fill="#960403"/>
<rect x="986.70" y="622.90" width="14.50" height="14.50" fill="#8e0202"/>
<rect x="1000.20" y="622.90" width="14.50" height="14.50" fill="#6e0505"/>
<rect x="1013.70" y="622.90" width="14.50" height="14.50" fill="#f23f09"/>
<rect x="1027.20" y="622.90" width="14.50" height="14.50" fill="#ee3708"/>
<rect x="1040.70" y="622.90" width="14.50" height="14.50" fill="#ee3708"/>
<rect x="1054.20" y="622.90" width="14.50" height="14.50" fill="#c51307"/>
<rect x="1067.70" y="622.90" width="14.50" height="14.50" fill="#f9540a"/>
<rect x="1081.20" y="622.90" width="14.50" height="14.50" fill="#f84f0a"/>
<rect x="1094.70" y="622.90" width="14.50" height="14.50" fill="#fc790f"/>
<rect x="1108.20" y="622.90" width="14.50" height="14.50" fill="#f89a17"/>
<rect x="1121.70" y="622.90" width="14.50" height="14.50" fill="#f89a17"/>
<rect x="1135.20" y="622.90" width="14.50" height="14.50" fill="#f6ac1c"/>
<rect x="1148.70" y="622.90" width="14.50" height="14.50" fill="#f3c323"/>
<rect x="1162.20" y="622.90" width="14.50" height="14.50" fill="#f6ac1c"/>
<rect x="1175.70" y="622.90" width="14.50" height="14.50" fill="#f1d228"/>
<rect x="1189.20" y="622.90" width="14.50" height="14.50" fill="#f1d228"/>
<rect x="1202.70" y="622.90" width="14.50" height="14.50" fill="#f2d924"/>
<rect x="1216.20" y="622.90" width="14.50" height="14.50" fill="#f3e020"/>
<rect x="1229.70" y="622.90" width="14.50" height="14.50" fill="#f4e81b"/>
<rect x="1243.20" y="622.90" width="14.50" height="14.50" fill="#f4eb19"/>
<rect x="1256.70" y="622.90" width="14.50" height="14.50" fill="#f5ef17"/>
<rect x="1270.20" y="622.90" width="13.50" height="14.50" fill="#f6f613"/>
<rect x="946.20" y="636.40" width="14.50" height="14.50" fill="#9f0604"/>
<rect x="959.70" y="636.40" width="14.50" height="14.50" fill="#a30704"/>
<rect x="973.20" y="636.40" width="14.50" height="14.50" fill="#2a1010"/>
<rect x="986.70" y="636.40" width="14.50" height="14.50" fill="#8e0202"/>
<rect x="1000.20" y="636.40" width="14.50" height="14.50" fill="#fb8712"/>
<rect x="1013.70" y="636.40" width="14.50" height="14.50" fill="#a30704"/>
<rect x="1027.20" y="636.40" width="14.50" height="14.50" fill="#ca1607"/>
<rect x="1040.70" y="636.40" width="14.50" height="14.50" fill="#9b0503"/>
<rect x="1054.20" y="636.40" width="14.50" height="14.50" fill="#c51307"/>
<rect x="1067.70" y="636.40" width="14.50" height="14.50" fill="#f44209"/>
<rect x="1081.20" y="636.40" width="14.50" height="14.50" fill="#fb740f"/>
<rect x="1094.70" y="636.40" width="14.50" height="14.50" fill="#fc790f"/>
<rect x="1108.20" y="636.40" width="14.50" height="14.50" fill="#f89a17"/>
<rect x="1121.70" y="636.40" width="14.50" height="14.50" fill="#fa8c14"/>
<rect x="1135.20" y="636.40" width="14.50" height="14.50" fill="#fa8c14"/>
<rect x="1148.70" y="636.40" width="14.50" height="14.50" fill="#f4bb21"/>
<rect x="1162.20" y="636.40" width="14.50" height="14.50" fill="#f3c323"/>
<rect x="1175.70" y="636.40" width="14.50" height="14.50" fill="#f2ce27"/>
<rect x="1189.20" y="636.40" width="14.50" height="14.50" fill="#f1d228"/>
<rect x="1202.70" y="636.40" width="14.50" height="14.50" fill="#f2d626"/>
<rect x="1216.20" y="636.40" width="14.50" height="14.50" fill="#f2dd22"/>
<rect x="1229.70" y="636.40" width="14.50" height="14.50" fill="#f4e41e"/>
<rect x="1243.20" y="636.40" width="14.50" height="14.50" fill="#f4eb19"/>
<rect x="1256.70" y="636.40" width="14.50" height="14.50" fill="#f5ef17"/>
<rect x="1270.20" y="636.40" width="13.50" height="14.50" fill="#f6f613"/>
<rect x="946.20" y="649.90" width="14.50" height="14.50" fill="#8e0202"/>
<rect x="959.70" y="649.90" width="14.50" height="14.50" fill="#8e0202"/>
<rect x="973.20" y="649.90" width="14.50" height="14.50" fill="#a30704"/>
<rect x="986.70" y="649.90" width="14.50" height="14.50" fill="#860303"/>
<rect x="1000.20" y="649.90" width="14.50" height="14.50" fill="#820303"/>
<rect x="1013.70" y="649.90" width="14.50" height="14.50" fill="#720505"/>
<rect x="1027.20" y="649.90" width="14.50" height="14.50" fill="#8e0202"/>
<rect x="1040.70" y="649.90" width="14.50" height="14.50" fill="#ee3708"/>
<rect x="1054.20" y="649.90" width="14.50" height="14.50" fill="#ee3708"/>
<rect x="1067.70" y="649.90" width="14.50" height="14.50" fill="#e02208"/>
<rect x="1081.20" y="649.90" width="14.50" height="14.50" fill="#f95a0b"/>
<rect x="1094.70" y="649.90" width="14.50" height="14.50" fill="#fc790f"/>
<rect x="1108.20" y="649.90" width="14.50" height="14.50" fill="#fa8c14"/>
<rect x="1121.70" y="649.90" width="14.50" height="14.50" fill="#f89e18"/>
<rect x="1135.20" y="649.90" width="14.50" height="14.50" fill="#f5b41e"/>
<rect x="1148.70" y="649.90" width="14.50" height="14.50" fill="#f4bf22"/>
<rect x="1162.20" y="649.90" width="14.50" height="14.50" fill="#f3c323"/>
<rect x="1175.70" y="649.90" width="14.50" height="14.50" fill="#f2ca26"/>
<rect x="1189.20" y="649.90" width="14.50" height="14.50" fill="#f1d228"/>
<rect x="1202.70" y="649.90" width="14.50" height="14.50" fill="#f2d924"/>
<rect x="1216.20" y="649.90" width="14.50" height="14.50" fill="#f2dd22"/>
<rect x="1229.70" y="649.90" width="14.50" height="14.50" fill="#f4e41e"/>
<rect x="1243.20" y="649.90" width="14.50" height="14.50" fill="#f4eb19"/>
<rect x="1256.70" y="649.90" width="14.50" height="14.50" fill="#f5ef17"/>
<rect x="1270.20" y="649.90" width="13.50" height="14.50" fill="#f6f613"/>
<rect x="946.20" y="663.40" width="14.50" height="14.50" fill="#960403"/>
<rect x="959.70" y="663.40" width="14.50" height="14.50" fill="#8e0202"/>
<rect x="973.20" y="663.40" width="14.50" height="14.50" fill="#8e0202"/>
<rect x="986.70" y="663.40" width="14.50" height="14.50" fill="#bc0e06"/>
<rect x="1000.20" y="663.40" width="14.50" height="14.50" fill="#7e0404"/>
<rect x="1013.70" y="663.40" width="14.50" height="14.50" fill="#960403"/>
<rect x="1027.20" y="663.40" width="14.50" height="14.50" fill="#b00a05"/>
<rect x="1040.70" y="663.40" width="14.50" height="14.50" fill="#f23f09"/>
<rect x="1054.20" y="663.40" width="14.50" height="14.50" fill="#f44209"/>
<rect x="1067.70" y="663.40" width="14.50" height="14.50" fill="#f44209"/>
<rect x="1081.20" y="663.40" width="14.50" height="14.50" fill="#f44209"/>
<rect x="1094.70" y="663.40" width="14.50" height="14.50" fill="#f84f0a"/>
<rect x="1108.20" y="663.40" width="14.50" height="14.50" fill="#f84a09"/>
<rect x="1121.70" y="663.40" width="14.50" height="14.50" fill="#fc7e10"/>
<rect x="1135.20" y="663.40" width="14.50" height="14.50" fill="#fa9015"/>
<rect x="1148.70" y="663.40" width="14.50" height="14.50" fill="#f7a31a"/>
<rect x="1162.20" y="663.40" width="14.50" height="14.50" fill="#f4bf22"/>
<rect x="1175.70" y="663.40" width="14.50" height="14.50" fill="#f2c724"/>
<rect x="1189.20" y="663.40" width="14.50" height="14.50" fill="#f2ce27"/>
<rect x="1202.70" y="663.40" width="14.50" height="14.50" fill="#f2ce27"/>
<rect x="1216.20" y="663.40" width="14.50" height="14.50" fill="#f3e020"/>
<rect x="1229.70" y="663.40" width="14.50" height="14.50" fill="#f4e41e"/>
<rect x="1243.20" y="663.40" width="14.50" height="14.50" fill="#f4e81b"/>
<rect x="1256.70" y="663.40" width="14.50" height="14.50" fill="#f5ef17"/>
<rect x="1270.20" y="663.40" width="13.50" height="14.50" fill="#f6f613"/>
<rect x="946.20" y="676.90" width="14.50" height="14.50" fill="#860303"/>
<rect x="959.70" y="676.90" width="14.50" height="14.50" fill="#760404"/>
<rect x="973.20" y="676.90" width="14.50" height="14.50" fill="#520a0a"/>
<rect x="986.70" y="676.90" width="14.50" height="14.50" fill="#6e0505"/>
<rect x="1000.20" y="676.90" width="14.50" height="14.50" fill="#8e0202"/>
<rect x="1013.70" y="676.90" width="14.50" height="14.50" fill="#9f0604"/>
<rect x="1027.20" y="676.90" width="14.50" height="14.50" fill="#b00a05"/>
<rect x="1040.70" y="676.90" width="14.50" height="14.50" fill="#d21a07"/>
<rect x="1054.20" y="676.90" width="14.50" height="14.50" fill="#d21a07"/>
<rect x="1067.70" y="676.90" width="14.50" height="14.50" fill="#e02208"/>
<rect x="1081.20" y="676.90" width="14.50" height="14.50" fill="#e02208"/>
<rect x="1094.70" y="676.90" width="14.50" height="14.50" fill="#f23f09"/>
<rect x="1108.20" y="676.90" width="14.50" height="14.50" fill="#fc790f"/>
<rect x="1121.70" y="676.90" width="14.50" height="14.50" fill="#f89e18"/>
<rect x="1135.20" y="676.90" width="14.50" height="14.50" fill="#f99516"/>
<rect x="1148.70" y="676.90" width="14.50" height="14.50" fill="#f7a31a"/>
<rect x="1162.20" y="676.90" width="14.50" height="14.50" fill="#f4bf22"/>
<rect x="1175.70" y="676.90" width="14.50" height="14.50" fill="#f5b41e"/>
<rect x="1189.20" y="676.90" width="14.50" height="14.50" fill="#f2ce27"/>
<rect x="1202.70" y="676.90" width="14.50" height="14.50" fill="#f2dd22"/>
<rect x="1216.20" y="676.90" width="14.50" height="14.50" fill="#f3e020"/>
<rect x="1229.70" y="676.90" width="14.50" height="14.50" fill="#f4e41e"/>
<rect x="1243.20" y="676.90" width="14.50" height="14.50" fill="#f4eb19"/>
<rect x="1256.70" y="676.90" width="14.50" height="14.50" fill="#f5ef17"/>
<rect x="1270.20" y="676.90" width="13.50" height="14.50" fill="#f6f613"/>
<rect x="946.20" y="690.40" width="14.50" height="14.50" fill="#8e0202"/>
<rect x="959.70" y="690.40" width="14.50" height="14.50" fill="#7a0404"/>
<rect x="973.20" y="690.40" width="14.50" height="14.50" fill="#820303"/>
<rect x="986.70" y="690.40" width="14.50" height="14.50" fill="#a70804"/>
<rect x="1000.20" y="690.40" width="14.50" height="14.50" fill="#760404"/>
<rect x="1013.70" y="690.40" width="14.50" height="14.50" fill="#960403"/>
<rect x="1027.20" y="690.40" width="14.50" height="14.50" fill="#8a0202"/>
<rect x="1040.70" y="690.40" width="14.50" height="14.50" fill="#9f0604"/>
<rect x="1054.20" y="690.40" width="14.50" height="14.50" fill="#b80c06"/>
<rect x="1067.70" y="690.40" width="14.50" height="14.50" fill="#ec3308"/>
<rect x="1081.20" y="690.40" width="14.50" height="14.50" fill="#f84a09"/>
<rect x="1094.70" y="690.40" width="14.50" height="14.50" fill="#f64609"/>
<rect x="1108.20" y="690.40" width="14.50" height="14.50" fill="#fc790f"/>
<rect x="1121.70" y="690.40" width="14.50" height="14.50" fill="#fb740f"/>
<rect x="1135.20" y="690.40" width="14.50" height="14.50" fill="#f7a31a"/>
<rect x="1148.70" y="690.40" width="14.50" height="14.50" fill="#f7a31a"/>
<rect x="1162.20" y="690.40" width="14.50" height="14.50" fill="#f4bf22"/>
<rect x="1175.70" y="690.40" width="14.50" height="14.50" fill="#f2d626"/>
<rect x="1189.20" y="690.40" width="14.50" height="14.50" fill="#f2ca26"/>
<rect x="1202.70" y="690.40" width="14.50" height="14.50" fill="#f2ce27"/>
<rect x="1216.20" y="690.40" width="14.50" height="14.50" fill="#f3e020"/>
<rect x="1229.70" y="690.40" width="14.50" height="14.50" fill="#f3e020"/>
<rect x="1243.20" y="690.40" width="14.50" height="14.50" fill="#f4eb19"/>
<rect x="1256.70" y="690.40" width="14.50" height="14.50" fill="#f5ef17"/>
<rect x="1270.20" y="690.40" width="13.50" height="14.50" fill="#f6f613"/>
<rect x="946.20" y="703.90" width="14.50" height="14.50" fill="#660606"/>
<rect x="959.70" y="703.90" width="14.50" height="14.50" fill="#760404"/>
<rect x="973.20" y="703.90" width="14.50" height="14.50" fill="#960403"/>
<rect x="986.70" y="703.90" width="14.50" height="14.50" fill="#720505"/>
<rect x="1000.20" y="703.90" width="14.50" height="14.50" fill="#760404"/>
<rect x="1013.70" y="703.90" width="14.50" height="14.50" fill="#9f0604"/>
<rect x="1027.20" y="703.90" width="14.50" height="14.50" fill="#9b0503"/>
<rect x="1040.70" y="703.90" width="14.50" height="14.50" fill="#ab0905"/>
<rect x="1054.20" y="703.90" width="14.50" height="14.50" fill="#a70804"/>
<rect x="1067.70" y="703.90" width="14.50" height="14.50" fill="#f44209"/>
<rect x="1081.20" y="703.90" width="14.50" height="14.50" fill="#f44209"/>
<rect x="1094.70" y="703.90" width="14.50" height="14.50" fill="#fa5f0c"/>
<rect x="1108.20" y="703.90" width="14.50" height="14.50" fill="#fc790f"/>
<rect x="1121.70" y="703.90" width="14.50" height="14.50" fill="#fc7e10"/>
<rect x="1135.20" y="703.90" width="14.50" height="14.50" fill="#f89e18"/>
<rect x="1148.70" y="703.90" width="14.50" height="14.50" fill="#f89a17"/>
<rect x="1162.20" y="703.90" width="14.50" height="14.50" fill="#f4b720"/>
<rect x="1175.70" y="703.90" width="14.50" height="14.50" fill="#f4b720"/>
<rect x="1189.20" y="703.90" width="14.50" height="14.50" fill="#f2c724"/>
<rect x="1202.70" y="703.90" width="14.50" height="14.50" fill="#f1d228"/>
<rect x="1216.20" y="703.90" width="14.50" height="14.50" fill="#f2dd22"/>
<rect x="1229.70" y="703.90" width="14.50" height="14.50" fill="#f4e41e"/>
<rect x="1243.20" y="703.90" width="14.50" height="14.50" fill="#f4e81b"/>
<rect x="1256.70" y="703.90" width="14.50" height="14.50" fill="#f4eb19"/>
<rect x="1270.20" y="703.90" width="13.50" height="14.50" fill="#f6f613"/>
<rect x="946.20" y="717.40" width="14.50" height="14.50" fill="#820303"/>
<rect x="959.70" y="717.40" width="14.50" height="14.50" fill="#820303"/>
<rect x="973.20" y="717.40" width="14.50" height="14.50" fill="#960403"/>
<rect x="986.70" y="717.40" width="14.50" height="14.50" fill="#760404"/>
<rect x="1000.20" y="717.40" width="14.50" height="14.50" fill="#7e0404"/>
<rect x="1013.70" y="717.40" width="14.50" height="14.50" fill="#960403"/>
<rect x="1027.20" y="717.40" width="14.50" height="14.50" fill="#960403"/>
<rect x="1040.70" y="717.40" width="14.50" height="14.50" fill="#d21a07"/>
<rect x="1054.20" y="717.40" width="14.50" height="14.50" fill="#c11106"/>
<rect x="1067.70" y="717.40" width="14.50" height="14.50" fill="#db1f08"/>
<rect x="1081.20" y="717.40" width="14.50" height="14.50" fill="#fa640c"/>
<rect x="1094.70" y="717.40" width="14.50" height="14.50" fill="#f95a0b"/>
<rect x="1108.20" y="717.40" width="14.50" height="14.50" fill="#fc790f"/>
<rect x="1121.70" y="717.40" width="14.50" height="14.50" fill="#fa8c14"/>
<rect x="1135.20" y="717.40" width="14.50" height="14.50" fill="#fb8712"/>
<rect x="1148.70" y="717.40" width="14.50" height="14.50" fill="#f7a31a"/>
<rect x="1162.20" y="717.40" width="14.50" height="14.50" fill="#f6b01d"/>
<rect x="1175.70" y="717.40" width="14.50" height="14.50" fill="#f4bf22"/>
<rect x="1189.20" y="717.40" width="14.50" height="14.50" fill="#f1d228"/>
<rect x="1202.70" y="717.40" width="14.50" height="14.50" fill="#f1d228"/>
<rect x="1216.20" y="717.40" width="14.50" height="14.50" fill="#f2dd22"/>
<rect x="1229.70" y="717.40" width="14.50" height="14.50" fill="#f4e41e"/>
<rect x="1243.20" y="717.40" width="14.50" height="14.50" fill="#f4eb19"/>
<rect x="1256.70" y="717.40" width="14.50" height="14.50" fill="#f5ef17"/>
<rect x="1270.20" y="717.40" width="13.50" height="14.50" fill="#f6f613"/>
<rect x="946.20" y="730.90" width="14.50" height="14.50" fill="#760404"/>
<rect x="959.70" y="730.90" width="14.50" height="14.50" fill="#6a0606"/>
<rect x="973.20" y="730.90" width="14.50" height="14.50" fill="#7e0404"/>
<rect x="986.70" y="730.90" width="14.50" height="14.50" fill="#760404"/>
<rect x="1000.20" y="730.90" width="14.50" height="14.50" fill="#8a0202"/>
<rect x="1013.70" y="730.90" width="14.50" height="14.50" fill="#8e0202"/>
<rect x="1027.20" y="730.90" width="14.50" height="14.50" fill="#a30704"/>
<rect x="1040.70" y="730.90" width="14.50" height="14.50" fill="#ab0905"/>
<rect x="1054.20" y="730.90" width="14.50" height="14.50" fill="#c51307"/>
<rect x="1067.70" y="730.90" width="14.50" height="14.50" fill="#ee3708"/>
<rect x="1081.20" y="730.90" width="14.50" height="14.50" fill="#f03b09"/>
<rect x="1094.70" y="730.90" width="14.50" height="14.50" fill="#ea2f08"/>
<rect x="1108.20" y="730.90" width="14.50" height="14.50" fill="#fa640c"/>
<rect x="1121.70" y="730.90" width="14.50" height="14.50" fill="#fc7e10"/>
<rect x="1135.20" y="730.90" width="14.50" height="14.50" fill="#f99516"/>
<rect x="1148.70" y="730.90" width="14.50" height="14.50" fill="#f7a71b"/>
<rect x="1162.20" y="730.90" width="14.50" height="14.50" fill="#f6b01d"/>
<rect x="1175.70" y="730.90" width="14.50" height="14.50" fill="#f6b01d"/>
<rect x="1189.20" y="730.90" width="14.50" height="14.50" fill="#f4bf22"/>
<rect x="1202.70" y="730.90" width="14.50" height="14.50" fill="#f2d626"/>
<rect x="1216.20" y="730.90" width="14.50" height="14.50" fill="#f3e020"/>
<rect x="1229.70" y="730.90" width="14.50" height="14.50" fill="#f4e41e"/>
<rect x="1243.20" y="730.90" width="14.50" height="14.50" fill="#f4eb19"/>
<rect x="1256.70" y="730.90" width="14.50" height="14.50" fill="#f5ef17"/>
<rect x="1270.20" y="730.90" width="13.50" height="14.50" fill="#f6f613"/>
<rect x="946.20" y="744.40" width="14.50" height="14.50" fill="#6e0505"/>
<rect x="959.70" y="744.40" width="14.50" height="14.50" fill="#720505"/>
<rect x="973.20" y="744.40" width="14.50" height="14.50" fill="#620707"/>
<rect x="986.70" y="744.40" width="14.50" height="14.50" fill="#660606"/>
<rect x="1000.20" y="744.40" width="14.50" height="14.50" fill="#7e0404"/>
<rect x="1013.70" y="744.40" width="14.50" height="14.50" fill="#720505"/>
<rect x="1027.20" y="744.40" width="14.50" height="14.50" fill="#9b0503"/>
<rect x="1040.70" y="744.40" width="14.50" height="14.50" fill="#bc0e06"/>
<rect x="1054.20" y="744.40" width="14.50" height="14.50" fill="#ce1807"/>
<rect x="1067.70" y="744.40" width="14.50" height="14.50" fill="#f64609"/>
<rect x="1081.20" y="744.40" width="14.50" height="14.50" fill="#f44209"/>
<rect x="1094.70" y="744.40" width="14.50" height="14.50" fill="#fa690d"/>
<rect x="1108.20" y="744.40" width="14.50" height="14.50" fill="#f64609"/>
<rect x="1121.70" y="744.40" width="14.50" height="14.50" fill="#fa690d"/>
<rect x="1135.20" y="744.40" width="14.50" height="14.50" fill="#fc7e10"/>
<rect x="1148.70" y="744.40" width="14.50" height="14.50" fill="#fa9015"/>
<rect x="1162.20" y="744.40" width="14.50" height="14.50" fill="#f6b01d"/>
<rect x="1175.70" y="744.40" width="14.50" height="14.50" fill="#f4bb21"/>
<rect x="1189.20" y="744.40" width="14.50" height="14.50" fill="#f3c323"/>
<rect x="1202.70" y="744.40" width="14.50" height="14.50" fill="#f2ce27"/>
<rect x="1216.20" y="744.40" width="14.50" height="14.50" fill="#f3e020"/>
<rect x="1229.70" y="744.40" width="14.50" height="14.50" fill="#f4e41e"/>
<rect x="1243.20" y="744.40" width="14.50" height="14.50" fill="#f4eb19"/>
<rect x="1256.70" y="744.40" width="14.50" height="14.50" fill="#f5ef17"/>
<rect x="1270.20" y="744.40" width="13.50" height="14.50" fill="#f6f613"/>
<rect x="946.20" y="757.90" width="14.50" height="14.50" fill="#6e0505"/>
<rect x="959.70" y="757.90" width="14.50" height="14.50" fill="#760404"/>
<rect x="973.20" y="757.90" width="14.50" height="14.50" fill="#7e0404"/>
<rect x="986.70" y="757.90" width="14.50" height="14.50" fill="#4a0c0c"/>
<rect x="1000.20" y="757.90" width="14.50" height="14.50" fill="#8e0202"/>
<rect x="1013.70" y="757.90" width="14.50" height="14.50" fill="#8a0202"/>
<rect x="1027.20" y="757.90" width="14.50" height="14.50" fill="#a70804"/>
<rect x="1040.70" y="757.90" width="14.50" height="14.50" fill="#e42408"/>
<rect x="1054.20" y="757.90" width="14.50" height="14.50" fill="#db1f08"/>
<rect x="1067.70" y="757.90" width="14.50" height="14.50" fill="#db1f08"/>
<rect x="1081.20" y="757.90" width="14.50" height="14.50" fill="#ee3708"/>
<rect x="1094.70" y="757.90" width="14.50" height="14.50" fill="#f64609"/>
<rect x="1108.20" y="757.90" width="14.50" height="14.50" fill="#fa690d"/>
<rect x="1121.70" y="757.90" width="14.50" height="14.50" fill="#fb740f"/>
<rect x="1135.20" y="757.90" width="14.50" height="14.50" fill="#fa8c14"/>
<rect x="1148.70" y="757.90" width="14.50" height="14.50" fill="#f89a17"/>
<rect x="1162.20" y="757.90" width="14.50" height="14.50" fill="#f7a31a"/>
<rect x="1175.70" y="757.90" width="14.50" height="14.50" fill="#f5b41e"/>
<rect x="1189.20" y="757.90" width="14.50" height="14.50" fill="#f2ce27"/>
<rect x="1202.70" y="757.90" width="14.50" height="14.50" fill="#f1d228"/>
<rect x="1216.20" y="757.90" width="14.50" height="14.50" fill="#f3e020"/>
<rect x="1229.70" y="757.90" width="14.50" height="14.50" fill="#f4e41e"/>
<rect x="1243.20" y="757.90" width="14.50" height="14.50" fill="#f4eb19"/>
<rect x="1256.70" y="757.90" width="14.50" height="14.50" fill="#f5ef17"/>
<rect x="1270.20" y="757.90" width="13.50" height="14.50" fill="#f6f613"/>
<rect x="946.20" y="771.40" width="14.50" height="14.50" fill="#520a0a"/>
<rect x="959.70" y="771.40" width="14.50" height="14.50" fill="#6a0606"/>
<rect x="973.20" y="771.40" width="14.50" height="14.50" fill="#7e0404"/>
<rect x="986.70" y="771.40" width="14.50" height="14.50" fill="#860303"/>
<rect x="1000.20" y="771.40" width="14.50" height="14.50" fill="#ab0905"/>
<rect x="1013.70" y="771.40" width="14.50" height="14.50" fill="#720505"/>
<rect x="1027.20" y="771.40" width="14.50" height="14.50" fill="#9f0604"/>
<rect x="1040.70" y="771.40" width="14.50" height="14.50" fill="#ca1607"/>
<rect x="1054.20" y="771.40" width="14.50" height="14.50" fill="#ab0905"/>
<rect x="1067.70" y="771.40" width="14.50" height="14.50" fill="#db1f08"/>
<rect x="1081.20" y="771.40" width="14.50" height="14.50" fill="#e42408"/>
<rect x="1094.70" y="771.40" width="14.50" height="14.50" fill="#ee3708"/>
<rect x="1108.20" y="771.40" width="14.50" height="14.50" fill="#fa5f0c"/>
<rect x="1121.70" y="771.40" width="14.50" height="14.50" fill="#fc790f"/>
<rect x="1135.20" y="771.40" width="14.50" height="14.50" fill="#fb8712"/>
<rect x="1148.70" y="771.40" width="14.50" height="14.50" fill="#fa9015"/>
<rect x="1162.20" y="771.40" width="14.50" height="14.50" fill="#f7a71b"/>
<rect x="1175.70" y="771.40" width="14.50" height="14.50" fill="#f4bb21"/>
<rect x="1189.20" y="771.40" width="14.50" height="14.50" fill="#f3c323"/>
<rect x="1202.70" y="771.40" width="14.50" height="14.50" fill="#f2ce27"/>
<rect x="1216.20" y="771.40" width="14.50" height="14.50" fill="#f3e020"/>
<rect x="1229.70" y="771.40" width="14.50" height="14.50" fill="#f4e41e"/>
<rect x="1243.20" y="771.40" width="14.50" height="14.50" fill="#f4e81b"/>
<rect x="1256.70" y="771.40" width="14.50" height="14.50" fill="#f5ef17"/>
<rect x="1270.20" y="771.40" width="13.50" height="14.50" fill="#f6f613"/>
<rect x="946.20" y="784.90" width="14.50" height="14.50" fill="#5e0808"/>
<rect x="959.70" y="784.90" width="14.50" height="14.50" fill="#5e0808"/>
<rect x="973.20" y="784.90" width="14.50" height="14.50" fill="#860303"/>
<rect x="986.70" y="784.90" width="14.50" height="14.50" fill="#6e0505"/>
<rect x="1000.20" y="784.90" width="14.50" height="14.50" fill="#860303"/>
<rect x="1013.70" y="784.90" width="14.50" height="14.50" fill="#a30704"/>
<rect x="1027.20" y="784.90" width="14.50" height="14.50" fill="#bc0e06"/>
<rect x="1040.70" y="784.90" width="14.50" height="14.50" fill="#c11106"/>
<rect x="1054.20" y="784.90" width="14.50" height="14.50" fill="#c11106"/>
<rect x="1067.70" y="784.90" width="14.50" height="14.50" fill="#db1f08"/>
<rect x="1081.20" y="784.90" width="14.50" height="14.50" fill="#e42408"/>
<rect x="1094.70" y="784.90" width="14.50" height="14.50" fill="#f44209"/>
<rect x="1108.20" y="784.90" width="14.50" height="14.50" fill="#f03b09"/>
<rect x="1121.70" y="784.90" width="14.50" height="14.50" fill="#fc7e10"/>
<rect x="1135.20" y="784.90" width="14.50" height="14.50" fill="#fc790f"/>
<rect x="1148.70" y="784.90" width="14.50" height="14.50" fill="#f99516"/>
<rect x="1162.20" y="784.90" width="14.50" height="14.50" fill="#f6b01d"/>
<rect x="1175.70" y="784.90" width="14.50" height="14.50" fill="#f4b720"/>
<rect x="1189.20" y="784.90" width="14.50" height="14.50" fill="#f3c323"/>
<rect x="1202.70" y="784.90" width="14.50" height="14.50" fill="#f1d228"/>
<rect x="1216.20" y="784.90" width="14.50" height="14.50" fill="#f3e020"/>
<rect x="1229.70" y="784.90" width="14.50" height="14.50" fill="#f4e41e"/>
<rect x="1243.20" y="784.90" width="14.50" height="14.50" fill="#f4eb19"/>
<rect x="1256.70" y="784.90" width="14.50" height="14.50" fill="#f5ef17"/>
<rect x="1270.20" y="784.90" width="13.50" height="14.50" fill="#f6f613"/>
<rect x="946.20" y="798.40" width="14.50" height="14.50" fill="#660606"/>
<rect x="959.70" y="798.40" width="14.50" height="14.50" fill="#820303"/>
<rect x="973.20" y="798.40" width="14.50" height="14.50" fill="#4a0c0c"/>
<rect x="986.70" y="798.40" width="14.50" height="14.50" fill="#820303"/>
<rect x="1000.20" y="798.40" width="14.50" height="14.50" fill="#8e0202"/>
<rect x="1013.70" y="798.40" width="14.50" height="14.50" fill="#8a0202"/>
<rect x="1027.20" y="798.40" width="14.50" height="14.50" fill="#b80c06"/>
<rect x="1040.70" y="798.40" width="14.50" height="14.50" fill="#c11106"/>
<rect x="1054.20" y="798.40" width="14.50" height="14.50" fill="#ca1607"/>
<rect x="1067.70" y="798.40" width="14.50" height="14.50" fill="#f03b09"/>
<rect x="1081.20" y="798.40" width="14.50" height="14.50" fill="#e62808"/>
<rect x="1094.70" y="798.40" width="14.50" height="14.50" fill="#e82c08"/>
<rect x="1108.20" y="798.40" width="14.50" height="14.50" fill="#fa640c"/>
<rect x="1121.70" y="798.40" width="14.50" height="14.50" fill="#fb740f"/>
<rect x="1135.20" y="798.40" width="14.50" height="14.50" fill="#f89a17"/>
<rect x="1148.70" y="798.40" width="14.50" height="14.50" fill="#f7a31a"/>
<rect x="1162.20" y="798.40" width="14.50" height="14.50" fill="#f7a71b"/>
<rect x="1175.70" y="798.40" width="14.50" height="14.50" fill="#f4b720"/>
<rect x="1189.20" y="798.40" width="14.50" height="14.50" fill="#f2c724"/>
<rect x="1202.70" y="798.40" width="14.50" height="14.50" fill="#f1d228"/>
<rect x="1216.20" y="798.40" width="14.50" height="14.50" fill="#f2d626"/>
<rect x="1229.70" y="798.40" width="14.50" height="14.50" fill="#f4e41e"/>
<rect x="1243.20" y="798.40" width="14.50" height="14.50" fill="#f4e81b"/>
<rect x="1256.70" y="798.40" width="14.50" height="14.50" fill="#f5ef17"/>
<rect x="1270.20" y="798.40" width="13.50" height="14.50" fill="#f6f613"/>
<rect x="946.20" y="811.90" width="14.50" height="14.50" fill="#5a0808"/>
<rect x="959.70" y="811.90" width="14.50" height="14.50" fill="#5a0808"/>
<rect x="973.20" y="811.90" width="14.50" height="14.50" fill="#6e0505"/>
<rect x="986.70" y="811.90" width="14.50" height="14.50" fill="#7e0404"/>
<rect x="1000.20" y="811.90" width="14.50" height="14.50" fill="#7e0404"/>
<rect x="1013.70" y="811.90" width="14.50" height="14.50" fill="#6e0505"/>
<rect x="1027.20" y="811.90" width="14.50" height="14.50" fill="#9f0604"/>
<rect x="1040.70" y="811.90" width="14.50" height="14.50" fill="#9f0604"/>
<rect x="1054.20" y="811.90" width="14.50" height="14.50" fill="#d71d07"/>
<rect x="1067.70" y="811.90" width="14.50" height="14.50" fill="#e02208"/>
<rect x="1081.20" y="811.90" width="14.50" height="14.50" fill="#e42408"/>
<rect x="1094.70" y="811.90" width="14.50" height="14.50" fill="#ec3308"/>
<rect x="1108.20" y="811.90" width="14.50" height="14.50" fill="#f9540a"/>
<rect x="1121.70" y="811.90" width="14.50" height="14.50" fill="#fb740f"/>
<rect x="1135.20" y="811.90" width="14.50" height="14.50" fill="#fb8311"/>
<rect x="1148.70" y="811.90" width="14.50" height="14.50" fill="#fa8c14"/>
<rect x="1162.20" y="811.90" width="14.50" height="14.50" fill="#f7a71b"/>
<rect x="1175.70" y="811.90" width="14.50" height="14.50" fill="#f4b720"/>
<rect x="1189.20" y="811.90" width="14.50" height="14.50" fill="#f3c323"/>
<rect x="1202.70" y="811.90" width="14.50" height="14.50" fill="#f2ca26"/>
<rect x="1216.20" y="811.90" width="14.50" height="14.50" fill="#f3e020"/>
<rect x="1229.70" y="811.90" width="14.50" height="14.50" fill="#f4e41e"/>
<rect x="1243.20" y="811.90" width="14.50" height="14.50" fill="#f4e81b"/>
<rect x="1256.70" y="811.90" width="14.50" height="14.50" fill="#f5ef17"/>
<rect x="1270.20" y="811.90" width="13.50" height="14.50" fill="#f6f613"/>
<rect x="946.20" y="825.40" width="14.50" height="14.50" fill="#5a0808"/>
<rect x="959.70" y="825.40" width="14.50" height="14.50" fill="#5a0808"/>
<rect x="973.20" y="825.40" width="14.50" height="14.50" fill="#6e0505"/>
<rect x="986.70" y="825.40" width="14.50" height="14.50" fill="#860303"/>
<rect x="1000.20" y="825.40" width="14.50" height="14.50" fill="#960403"/>
<rect x="1013.70" y="825.40" width="14.50" height="14.50" fill="#720505"/>
<rect x="1027.20" y="825.40" width="14.50" height="14.50" fill="#b00a05"/>
<rect x="1040.70" y="825.40" width="14.50" height="14.50" fill="#c51307"/>
<rect x="1054.20" y="825.40" width="14.50" height="14.50" fill="#d21a07"/>
<rect x="1067.70" y="825.40" width="14.50" height="14.50" fill="#e02208"/>
<rect x="1081.20" y="825.40" width="14.50" height="14.50" fill="#ee3708"/>
<rect x="1094.70" y="825.40" width="14.50" height="14.50" fill="#f64609"/>
<rect x="1108.20" y="825.40" width="14.50" height="14.50" fill="#fa640c"/>
<rect x="1121.70" y="825.40" width="14.50" height="14.50" fill="#fc7e10"/>
<rect x="1135.20" y="825.40" width="14.50" height="14.50" fill="#fb8311"/>
<rect x="1148.70" y="825.40" width="14.50" height="14.50" fill="#fa8c14"/>
<rect x="1162.20" y="825.40" width="14.50" height="14.50" fill="#f7a71b"/>
<rect x="1175.70" y="825.40" width="14.50" height="14.50" fill="#f5b41e"/>
<rect x="1189.20" y="825.40" width="14.50" height="14.50" fill="#f2ca26"/>
<rect x="1202.70" y="825.40" width="14.50" height="14.50" fill="#f2d626"/>
<rect x="1216.20" y="825.40" width="14.50" height="14.50" fill="#f3e020"/>
<rect x="1229.70" y="825.40" width="14.50" height="14.50" fill="#f4e41e"/>
<rect x="1243.20" y="825.40" width="14.50" height="14.50" fill="#f4eb19"/>
<rect x="1256.70" y="825.40" width="14.50" height="14.50" fill="#f5ef17"/>
<rect x="1270.20" y="825.40" width="13.50" height="14.50" fill="#f6f613"/>
<rect x="946.20" y="838.90" width="14.50" height="14.50" fill="#5a0808"/>
<rect x="959.70" y="838.90" width="14.50" height="14.50" fill="#6a0606"/>
<rect x="973.20" y="838.90" width="14.50" height="14.50" fill="#6a0606"/>
<rect x="986.70" y="838.90" width="14.50" height="14.50" fill="#4a0c0c"/>
<rect x="1000.20" y="838.90" width="14.50" height="14.50" fill="#820303"/>
<rect x="1013.70" y="838.90" width="14.50" height="14.50" fill="#9f0604"/>
<rect x="1027.20" y="838.90" width="14.50" height="14.50" fill="#8e0202"/>
<rect x="1040.70" y="838.90" width="14.50" height="14.50" fill="#8e0202"/>
<rect x="1054.20" y="838.90" width="14.50" height="14.50" fill="#d71d07"/>
<rect x="1067.70" y="838.90" width="14.50" height="14.50" fill="#e42408"/>
<rect x="1081.20" y="838.90" width="14.50" height="14.50" fill="#ec3308"/>
<rect x="1094.70" y="838.90" width="14.50" height="14.50" fill="#fa640c"/>
<rect x="1108.20" y="838.90" width="14.50" height="14.50" fill="#f64609"/>
<rect x="1121.70" y="838.90" width="14.50" height="14.50" fill="#fb740f"/>
<rect x="1135.20" y="838.90" width="14.50" height="14.50" fill="#fb8311"/>
<rect x="1148.70" y="838.90" width="14.50" height="14.50" fill="#fa8c14"/>
<rect x="1162.20" y="838.90" width="14.50" height="14.50" fill="#f5b41e"/>
<rect x="1175.70" y="838.90" width="14.50" height="14.50" fill="#f4b720"/>
<rect x="1189.20" y="838.90" width="14.50" height="14.50" fill="#f2c724"/>
<rect x="1202.70" y="838.90" width="14.50" height="14.50" fill="#f1d228"/>
<rect x="1216.20" y="838.90" width="14.50" height="14.50" fill="#f2dd22"/>
<rect x="1229.70" y="838.90" width="14.50" height="14.50" fill="#f4e81b"/>
<rect x="1243.20" y="838.90" width="14.50" height="14.50" fill="#f4eb19"/>
<rect x="1256.70" y="838.90" width="14.50" height="14.50" fill="#f5ef17"/>
<rect x="1270.20" y="838.90" width="13.50" height="14.50" fill="#f6f613"/>
<rect x="946.20" y="852.40" width="14.50" height="13.50" fill="#5a0808"/>
<rect x="959.70" y="852.40" width="14.50" height="13.50" fill="#760404"/>
<rect x="973.20" y="852.40" width="14.50" height="13.50" fill="#6a0606"/>
<rect x="986.70" y="852.40" width="14.50" height="13.50" fill="#720505"/>
<rect x="1000.20" y="852.40" width="14.50" height="13.50" fill="#860303"/>
<rect x="1013.70" y="852.40" width="14.50" height="13.50" fill="#960403"/>
<rect x="1027.20" y="852.40" width="14.50" height="13.50" fill="#9b0503"/>
<rect x="1040.70" y="852.40" width="14.50" height="13.50" fill="#8a0202"/>
<rect x="1054.20" y="852.40" width="14.50" height="13.50" fill="#ea2f08"/>
<rect x="1067.70" y="852.40" width="14.50" height="13.50" fill="#ab0905"/>
<rect x="1081.20" y="852.40" width="14.50" height="13.50" fill="#e82c08"/>
<rect x="1094.70" y="852.40" width="14.50" height="13.50" fill="#e82c08"/>
<rect x="1108.20" y="852.40" width="14.50" height="13.50" fill="#f84a09"/>
<rect x="1121.70" y="852.40" width="14.50" height="13.50" fill="#fb740f"/>
<rect x="1135.20" y="852.40" width="14.50" height="13.50" fill="#fc7e10"/>
<rect x="1148.70" y="852.40" width="14.50" height="13.50" fill="#f89e18"/>
<rect x="1162.20" y="852.40" width="14.50" height="13.50" fill="#f6b01d"/>
<rect x="1175.70" y="852.40" width="14.50" height="13.50" fill="#f4b720"/>
<rect x="1189.20" y="852.40" width="14.50" height="13.50" fill="#f2c724"/>
<rect x="1202.70" y="852.40" width="14.50" height="13.50" fill="#f1d228"/>
<rect x="1216.20" y="852.40" width="14.50" height="13.50" fill="#f2d626"/>
<rect x="1229.70" y="852.40" width="14.50" height="13.50" fill="#f4e41e"/>
<rect x="1243.20" y="852.40" width="14.50" height="13.50" fill="#f4eb19"/>
<rect x="1256.70" y="852.40" width="14.50" height="13.50" fill="#f5ef17"/>
<rect x="1270.20" y="852.40" width="13.50" height="13.50" fill="#f6f613"/>
</g>
<path d="M929.50 511.70V882.60H1300.80" fill="none" stroke="#000" stroke-width="2.40" stroke-linecap="butt" stroke-linejoin="miter"/>
<line x1="922.40" y1="859.15" x2="928.50" y2="859.15" stroke="#333" stroke-width="2.70"/>
<text transform="translate(917.00 869.55) scale(1 1.045)" text-anchor="end" font-size="27.60">0.00</text>
<line x1="922.40" y1="778.15" x2="928.50" y2="778.15" stroke="#333" stroke-width="2.70"/>
<text transform="translate(917.00 788.55) scale(1 1.045)" text-anchor="end" font-size="27.60">0.25</text>
<line x1="922.40" y1="697.15" x2="928.50" y2="697.15" stroke="#333" stroke-width="2.70"/>
<text transform="translate(917.00 707.55) scale(1 1.045)" text-anchor="end" font-size="27.60">0.50</text>
<line x1="922.40" y1="616.15" x2="928.50" y2="616.15" stroke="#333" stroke-width="2.70"/>
<text transform="translate(917.00 626.55) scale(1 1.045)" text-anchor="end" font-size="27.60">0.75</text>
<line x1="922.40" y1="535.15" x2="928.50" y2="535.15" stroke="#333" stroke-width="2.70"/>
<text transform="translate(917.00 545.55) scale(1 1.045)" text-anchor="end" font-size="27.60">1.00</text>
<line x1="952.95" y1="883.60" x2="952.95" y2="889.70" stroke="#333" stroke-width="2.70"/>
<text transform="translate(973.55 895.20) rotate(-90) scale(1 1.045)" text-anchor="end" font-size="27.60">0.00</text>
<line x1="1033.95" y1="883.60" x2="1033.95" y2="889.70" stroke="#333" stroke-width="2.70"/>
<text transform="translate(1054.55 895.20) rotate(-90) scale(1 1.045)" text-anchor="end" font-size="27.60">0.25</text>
<line x1="1114.95" y1="883.60" x2="1114.95" y2="889.70" stroke="#333" stroke-width="2.70"/>
<text transform="translate(1135.55 895.20) rotate(-90) scale(1 1.045)" text-anchor="end" font-size="27.60">0.50</text>
<line x1="1195.95" y1="883.60" x2="1195.95" y2="889.70" stroke="#333" stroke-width="2.70"/>
<text transform="translate(1216.55 895.20) rotate(-90) scale(1 1.045)" text-anchor="end" font-size="27.60">0.75</text>
<line x1="1276.95" y1="883.60" x2="1276.95" y2="889.70" stroke="#333" stroke-width="2.70"/>
<text transform="translate(1297.55 895.20) rotate(-90) scale(1 1.045)" text-anchor="end" font-size="27.60">1.00</text>
<text transform="translate(850.60 697.00) rotate(-90) scale(1 1.020)" text-anchor="middle" font-size="27.60">Blockade</text>
<text transform="translate(1115.10 975.50) scale(1 1.020)" text-anchor="middle" font-size="27.60">Suppression</text>
<text x="830.60" y="517.40" font-size="27.60" font-weight="bold" stroke="none">d</text>
<defs><linearGradient id="gd" x1="0" y1="1" x2="0" y2="0">
<stop offset="0.0000" stop-color="#151111"/>
<stop offset="0.1000" stop-color="#3e0e0e"/>
<stop offset="0.2000" stop-color="#660606"/>
<stop offset="0.3000" stop-color="#8e0202"/>
<stop offset="0.4000" stop-color="#b80c06"/>
<stop offset="0.5000" stop-color="#e42408"/>
<stop offset="0.6000" stop-color="#f84a09"/>
<stop offset="0.7000" stop-color="#fc7e10"/>
<stop offset="0.8000" stop-color="#f6ac1c"/>
<stop offset="0.9000" stop-color="#f1d228"/>
<stop offset="1.0000" stop-color="#f6f613"/>
</linearGradient></defs>
<rect x="1341.90" y="617.70" width="40.00" height="197.90" fill="url(#gd)"/>
<path d="M1341.90 617.90h8.00M1373.90 617.90h8.00" stroke="#fff" stroke-width="1.1" fill="none"/>
<path d="M1341.90 667.30h8.00M1373.90 667.30h8.00" stroke="#fff" stroke-width="1.1" fill="none"/>
<path d="M1341.90 716.70h8.00M1373.90 716.70h8.00" stroke="#fff" stroke-width="1.1" fill="none"/>
<path d="M1341.90 766.10h8.00M1373.90 766.10h8.00" stroke="#fff" stroke-width="1.1" fill="none"/>
<path d="M1341.90 815.50h8.00M1373.90 815.50h8.00" stroke="#fff" stroke-width="1.1" fill="none"/>
<text transform="translate(1395.50 625.80) scale(1 0.990)" font-size="23.00">1.00</text>
<text transform="translate(1395.50 675.20) scale(1 0.990)" font-size="23.00">0.75</text>
<text transform="translate(1395.50 724.60) scale(1 0.990)" font-size="23.00">0.50</text>
<text transform="translate(1395.50 774.00) scale(1 0.990)" font-size="23.00">0.25</text>
<text transform="translate(1395.50 823.40) scale(1 0.990)" font-size="23.00">0.00</text>
<text transform="translate(1341.70 600.60) scale(1 1.020)" font-size="27.60">Antigenicit<tspan dx="1.2">y</tspan></text>
</svg>
</body></html>
